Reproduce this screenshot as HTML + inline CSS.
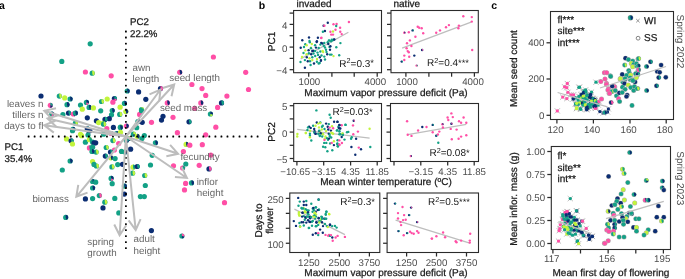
<!DOCTYPE html>
<html><head><meta charset="utf-8"><style>
html,body{margin:0;padding:0;background:#fff;}
svg{display:block;font-family:"Liberation Sans", sans-serif;will-change:transform;text-rendering:geometricPrecision;}
</style></head><body>
<svg width="685" height="279" viewBox="0 0 685 279" xmlns="http://www.w3.org/2000/svg">
<rect width="685" height="279" fill="#fff"/>
<circle cx="90.2" cy="43.8" r="2.6" fill="#13a186"/>
<circle cx="61.8" cy="61.4" r="2.6" fill="#13a186"/>
<circle cx="85.4" cy="72.0" r="2.6" fill="#ff4fa6"/>
<circle cx="92.2" cy="73.2" r="2.6" fill="#13a186"/>
<path d="M92.2,73.2L92.20,70.60A2.6,2.6 0 0 1 93.00,75.67Z" fill="#c2f43c"/>
<circle cx="111.2" cy="75.8" r="2.6" fill="#ff4fa6"/>
<circle cx="41.0" cy="96.0" r="2.6" fill="#0b2d72"/>
<circle cx="59.3" cy="96.1" r="2.6" fill="#13a186"/>
<path d="M59.3,96.1L59.30,93.50A2.6,2.6 0 0 1 60.10,98.57Z" fill="#c2f43c"/>
<circle cx="64.7" cy="97.9" r="2.6" fill="#c2f43c"/>
<circle cx="70.1" cy="99.0" r="2.6" fill="#13a186"/>
<path d="M70.1,99.0L70.10,96.40A2.6,2.6 0 0 1 70.90,101.47Z" fill="#0b2d72"/>
<circle cx="67.0" cy="104.7" r="2.6" fill="#13a186"/>
<path d="M67.0,104.7L67.00,102.10A2.6,2.6 0 0 1 67.80,107.17Z" fill="#0b2d72"/>
<circle cx="86.4" cy="102.4" r="2.6" fill="#13a186"/>
<path d="M86.4,102.4L86.40,99.80A2.6,2.6 0 0 1 88.87,103.20Z" fill="#0b2d72"/>
<path d="M86.4,102.4L88.87,103.20A2.6,2.6 0 0 1 86.40,105.00Z" fill="#ff4fa6"/>
<circle cx="80.5" cy="105.1" r="2.6" fill="#13a186"/>
<circle cx="82.3" cy="109.2" r="2.6" fill="#c2f43c"/>
<circle cx="89.1" cy="107.4" r="2.6" fill="#13a186"/>
<path d="M89.1,107.4L89.10,104.80A2.6,2.6 0 0 1 89.90,109.87Z" fill="#0b2d72"/>
<circle cx="93.4" cy="107.9" r="2.6" fill="#c2f43c"/>
<circle cx="62.9" cy="114.6" r="2.6" fill="#13a186"/>
<circle cx="68.5" cy="113.1" r="2.6" fill="#0b2d72"/>
<path d="M68.5,113.1L68.50,110.50A2.6,2.6 0 0 1 69.30,115.57Z" fill="#13a186"/>
<circle cx="73.3" cy="114.0" r="2.6" fill="#ff4fa6"/>
<path d="M73.3,114.0L73.30,111.40A2.6,2.6 0 0 1 74.10,116.47Z" fill="#0b2d72"/>
<circle cx="75.4" cy="113.1" r="2.6" fill="#13a186"/>
<path d="M75.4,113.1L75.40,110.50A2.6,2.6 0 0 1 76.20,115.57Z" fill="#0b2d72"/>
<circle cx="87.3" cy="117.8" r="2.6" fill="#0b2d72"/>
<circle cx="75.4" cy="123.2" r="2.6" fill="#13a186"/>
<path d="M75.4,123.2L75.40,120.60A2.6,2.6 0 0 1 76.20,125.67Z" fill="#c2f43c"/>
<circle cx="72.9" cy="129.4" r="2.6" fill="#13a186"/>
<path d="M72.9,129.4L72.90,126.80A2.6,2.6 0 0 1 73.70,131.87Z" fill="#0b2d72"/>
<circle cx="87.3" cy="128.9" r="2.6" fill="#0b2d72"/>
<path d="M87.3,128.9L87.30,126.30A2.6,2.6 0 0 1 88.10,131.37Z" fill="#13a186"/>
<circle cx="89.8" cy="130.7" r="2.6" fill="#0b2d72"/>
<circle cx="80.5" cy="134.3" r="2.6" fill="#c2f43c"/>
<circle cx="50.3" cy="105.3" r="2.6" fill="#ff4fa6"/>
<path d="M50.3,105.3L50.30,102.70A2.6,2.6 0 0 1 52.77,106.10Z" fill="#13a186"/>
<path d="M50.3,105.3L52.77,106.10A2.6,2.6 0 0 1 50.30,107.90Z" fill="#0b2d72"/>
<circle cx="51.7" cy="114.0" r="2.6" fill="#13a186"/>
<path d="M51.7,114.0L51.70,111.40A2.6,2.6 0 0 1 54.17,114.80Z" fill="#0b2d72"/>
<path d="M51.7,114.0L54.17,114.80A2.6,2.6 0 0 1 51.70,116.60Z" fill="#ff4fa6"/>
<circle cx="127.2" cy="91.0" r="2.6" fill="#13a186"/>
<path d="M127.2,91.0L127.20,88.40A2.6,2.6 0 0 1 128.00,93.47Z" fill="#0b2d72"/>
<circle cx="107.2" cy="99.0" r="2.6" fill="#c2f43c"/>
<circle cx="101.5" cy="101.5" r="2.6" fill="#13a186"/>
<path d="M101.5,101.5L101.50,98.90A2.6,2.6 0 0 1 102.30,103.97Z" fill="#c2f43c"/>
<circle cx="114.4" cy="98.6" r="2.6" fill="#0b2d72"/>
<path d="M114.4,98.6L114.40,96.00A2.6,2.6 0 0 1 116.87,99.40Z" fill="#13a186"/>
<path d="M114.4,98.6L116.87,99.40A2.6,2.6 0 0 1 114.40,101.20Z" fill="#ff4fa6"/>
<circle cx="112.9" cy="102.2" r="2.6" fill="#ff4fa6"/>
<circle cx="124.4" cy="103.4" r="2.6" fill="#13a186"/>
<path d="M124.4,103.4L124.40,100.80A2.6,2.6 0 0 1 125.20,105.87Z" fill="#0b2d72"/>
<circle cx="120.1" cy="107.2" r="2.6" fill="#c2f43c"/>
<circle cx="100.7" cy="110.8" r="2.6" fill="#13a186"/>
<circle cx="112.2" cy="110.5" r="2.6" fill="#13a186"/>
<path d="M112.2,110.5L112.20,107.90A2.6,2.6 0 0 1 113.00,112.97Z" fill="#0b2d72"/>
<circle cx="125.8" cy="111.5" r="2.6" fill="#c2f43c"/>
<path d="M125.8,111.5L125.80,108.90A2.6,2.6 0 0 1 126.60,113.97Z" fill="#0b2d72"/>
<circle cx="111.5" cy="114.8" r="2.6" fill="#13a186"/>
<circle cx="119.7" cy="114.4" r="2.6" fill="#13a186"/>
<path d="M119.7,114.4L119.70,111.80A2.6,2.6 0 0 1 120.50,116.87Z" fill="#c2f43c"/>
<circle cx="109.3" cy="118.7" r="2.6" fill="#0b2d72"/>
<circle cx="105.0" cy="119.4" r="2.6" fill="#0b2d72"/>
<path d="M105.0,119.4L105.00,116.80A2.6,2.6 0 0 1 105.80,121.87Z" fill="#13a186"/>
<circle cx="96.4" cy="120.8" r="2.6" fill="#0b2d72"/>
<circle cx="98.6" cy="122.6" r="2.6" fill="#c2f43c"/>
<circle cx="102.9" cy="123.4" r="2.6" fill="#c2f43c"/>
<path d="M102.9,123.4L102.90,120.80A2.6,2.6 0 0 1 103.70,125.87Z" fill="#13a186"/>
<circle cx="138.6" cy="91.9" r="2.6" fill="#0b2d72"/>
<circle cx="160.5" cy="88.6" r="2.6" fill="#0b2d72"/>
<path d="M160.5,88.6L160.50,86.00A2.6,2.6 0 0 1 161.30,91.07Z" fill="#ff4fa6"/>
<circle cx="145.8" cy="99.3" r="2.6" fill="#0b2d72"/>
<circle cx="167.3" cy="102.9" r="2.6" fill="#ff4fa6"/>
<path d="M167.3,102.9L167.30,100.30A2.6,2.6 0 0 1 168.10,105.37Z" fill="#0b2d72"/>
<circle cx="141.5" cy="109.7" r="2.6" fill="#13a186"/>
<path d="M141.5,109.7L141.50,107.10A2.6,2.6 0 0 1 142.30,112.17Z" fill="#c2f43c"/>
<circle cx="139.6" cy="114.4" r="2.6" fill="#ff4fa6"/>
<circle cx="163.0" cy="116.3" r="2.6" fill="#0b2d72"/>
<circle cx="161.5" cy="120.1" r="2.6" fill="#0b2d72"/>
<circle cx="173.0" cy="117.3" r="2.6" fill="#ff4fa6"/>
<circle cx="137.9" cy="121.6" r="2.6" fill="#13a186"/>
<path d="M137.9,121.6L137.90,119.00A2.6,2.6 0 0 1 138.70,124.07Z" fill="#0b2d72"/>
<circle cx="142.2" cy="122.3" r="2.6" fill="#0b2d72"/>
<circle cx="151.5" cy="122.3" r="2.6" fill="#ff4fa6"/>
<circle cx="141.5" cy="110.7" r="2.6" fill="#13a186"/>
<circle cx="103.6" cy="124.2" r="2.6" fill="#13a186"/>
<path d="M103.6,124.2L103.60,121.60A2.6,2.6 0 0 1 104.40,126.67Z" fill="#c2f43c"/>
<circle cx="106.8" cy="128.5" r="2.6" fill="#ff4fa6"/>
<circle cx="113.4" cy="127.4" r="2.6" fill="#0b2d72"/>
<circle cx="120.5" cy="127.0" r="2.6" fill="#13a186"/>
<path d="M120.5,127.0L120.50,124.40A2.6,2.6 0 0 1 121.30,129.47Z" fill="#c2f43c"/>
<circle cx="126.3" cy="126.0" r="2.6" fill="#ff4fa6"/>
<path d="M126.3,126.0L126.30,123.40A2.6,2.6 0 0 1 127.10,128.47Z" fill="#0b2d72"/>
<circle cx="120.3" cy="127.5" r="2.6" fill="#13a186"/>
<path d="M120.3,127.5L120.30,124.90A2.6,2.6 0 0 1 121.10,129.97Z" fill="#0b2d72"/>
<circle cx="103.6" cy="134.2" r="2.6" fill="#13a186"/>
<circle cx="111.1" cy="133.5" r="2.6" fill="#ff4fa6"/>
<path d="M111.1,133.5L111.10,130.90A2.6,2.6 0 0 1 111.90,135.97Z" fill="#13a186"/>
<circle cx="116.5" cy="133.5" r="2.6" fill="#13a186"/>
<path d="M116.5,133.5L116.50,130.90A2.6,2.6 0 0 1 117.30,135.97Z" fill="#0b2d72"/>
<circle cx="120.5" cy="132.3" r="2.6" fill="#c2f43c"/>
<circle cx="133.4" cy="134.2" r="2.6" fill="#13a186"/>
<path d="M133.4,134.2L133.40,131.60A2.6,2.6 0 0 1 135.87,135.00Z" fill="#c2f43c"/>
<path d="M133.4,134.2L135.87,135.00A2.6,2.6 0 0 1 133.40,136.80Z" fill="#0b2d72"/>
<circle cx="95.7" cy="142.8" r="2.6" fill="#0b2d72"/>
<circle cx="112.9" cy="140.6" r="2.6" fill="#13a186"/>
<path d="M112.9,140.6L112.90,138.00A2.6,2.6 0 0 1 113.70,143.07Z" fill="#c2f43c"/>
<circle cx="118.7" cy="143.5" r="2.6" fill="#ff4fa6"/>
<circle cx="126.3" cy="140.6" r="2.6" fill="#13a186"/>
<path d="M126.3,140.6L126.30,138.00A2.6,2.6 0 0 1 127.10,143.07Z" fill="#0b2d72"/>
<circle cx="128.7" cy="138.5" r="2.6" fill="#13a186"/>
<path d="M128.7,138.5L128.70,135.90A2.6,2.6 0 0 1 131.17,139.30Z" fill="#c2f43c"/>
<path d="M128.7,138.5L131.17,139.30A2.6,2.6 0 0 1 128.70,141.10Z" fill="#0b2d72"/>
<circle cx="106.2" cy="147.5" r="2.6" fill="#13a186"/>
<path d="M106.2,147.5L106.20,144.90A2.6,2.6 0 0 1 107.00,149.97Z" fill="#c2f43c"/>
<circle cx="114.4" cy="150.0" r="2.6" fill="#ff4fa6"/>
<circle cx="121.5" cy="151.4" r="2.6" fill="#13a186"/>
<circle cx="130.6" cy="149.2" r="2.6" fill="#0b2d72"/>
<circle cx="110.5" cy="152.1" r="2.6" fill="#0b2d72"/>
<path d="M110.5,152.1L110.50,149.50A2.6,2.6 0 0 1 111.30,154.57Z" fill="#13a186"/>
<circle cx="96.1" cy="152.1" r="2.6" fill="#13a186"/>
<path d="M96.1,152.1L96.10,149.50A2.6,2.6 0 0 1 96.90,154.57Z" fill="#c2f43c"/>
<circle cx="105.3" cy="156.1" r="2.6" fill="#0b2d72"/>
<path d="M105.3,156.1L105.30,153.50A2.6,2.6 0 0 1 106.10,158.57Z" fill="#13a186"/>
<circle cx="110.8" cy="157.8" r="2.6" fill="#c2f43c"/>
<path d="M110.8,157.8L110.80,155.20A2.6,2.6 0 0 1 111.60,160.27Z" fill="#0b2d72"/>
<circle cx="115.1" cy="158.6" r="2.6" fill="#13a186"/>
<circle cx="125.1" cy="152.1" r="2.6" fill="#13a186"/>
<path d="M125.1,152.1L125.10,149.50A2.6,2.6 0 0 1 125.90,154.57Z" fill="#0b2d72"/>
<circle cx="136.7" cy="127.7" r="2.6" fill="#13a186"/>
<circle cx="137.2" cy="136.3" r="2.6" fill="#c2f43c"/>
<path d="M137.2,136.3L137.20,133.70A2.6,2.6 0 0 1 138.00,138.77Z" fill="#0b2d72"/>
<circle cx="144.3" cy="135.6" r="2.6" fill="#13a186"/>
<circle cx="141.9" cy="138.5" r="2.6" fill="#13a186"/>
<circle cx="155.4" cy="142.8" r="2.6" fill="#13a186"/>
<path d="M155.4,142.8L155.40,140.20A2.6,2.6 0 0 1 156.20,145.27Z" fill="#0b2d72"/>
<circle cx="152.2" cy="155.3" r="2.6" fill="#13a186"/>
<circle cx="72.5" cy="130.7" r="2.6" fill="#13a186"/>
<circle cx="88.7" cy="130.7" r="2.6" fill="#0b2d72"/>
<circle cx="66.5" cy="138.9" r="2.6" fill="#c2f43c"/>
<circle cx="71.1" cy="140.8" r="2.6" fill="#0b2d72"/>
<path d="M71.1,140.8L71.10,138.20A2.6,2.6 0 0 1 71.90,143.27Z" fill="#13a186"/>
<circle cx="72.5" cy="144.0" r="2.6" fill="#c2f43c"/>
<circle cx="81.5" cy="135.7" r="2.6" fill="#c2f43c"/>
<circle cx="88.0" cy="135.0" r="2.6" fill="#13a186"/>
<circle cx="85.4" cy="142.2" r="2.6" fill="#13a186"/>
<circle cx="89.4" cy="139.7" r="2.6" fill="#c2f43c"/>
<path d="M89.4,139.7L89.40,137.10A2.6,2.6 0 0 1 90.20,142.17Z" fill="#13a186"/>
<circle cx="92.6" cy="142.2" r="2.6" fill="#13a186"/>
<circle cx="94.0" cy="142.9" r="2.6" fill="#0b2d72"/>
<circle cx="89.4" cy="147.9" r="2.6" fill="#ff4fa6"/>
<path d="M89.4,147.9L89.40,145.30A2.6,2.6 0 0 1 90.20,150.37Z" fill="#13a186"/>
<circle cx="92.6" cy="147.2" r="2.6" fill="#13a186"/>
<circle cx="92.0" cy="151.5" r="2.6" fill="#13a186"/>
<path d="M92.0,151.5L92.00,148.90A2.6,2.6 0 0 1 92.80,153.97Z" fill="#0b2d72"/>
<circle cx="70.1" cy="161.0" r="2.6" fill="#13a186"/>
<path d="M70.1,161.0L70.10,158.40A2.6,2.6 0 0 1 70.90,163.47Z" fill="#0b2d72"/>
<circle cx="92.6" cy="161.5" r="2.6" fill="#c2f43c"/>
<circle cx="94.0" cy="164.4" r="2.6" fill="#13a186"/>
<circle cx="62.3" cy="170.0" r="2.6" fill="#13a186"/>
<circle cx="92.6" cy="181.5" r="2.6" fill="#13a186"/>
<path d="M92.6,181.5L92.60,178.90A2.6,2.6 0 0 1 93.40,183.97Z" fill="#0b2d72"/>
<circle cx="92.6" cy="188.0" r="2.6" fill="#13a186"/>
<path d="M92.6,188.0L92.60,185.40A2.6,2.6 0 0 1 93.40,190.47Z" fill="#0b2d72"/>
<circle cx="96.4" cy="166.0" r="2.6" fill="#13a186"/>
<path d="M96.4,166.0L96.40,163.40A2.6,2.6 0 0 1 97.20,168.47Z" fill="#c2f43c"/>
<circle cx="111.9" cy="166.9" r="2.6" fill="#13a186"/>
<path d="M111.9,166.9L111.90,164.30A2.6,2.6 0 0 1 112.70,169.37Z" fill="#c2f43c"/>
<circle cx="117.7" cy="164.6" r="2.6" fill="#13a186"/>
<circle cx="122.5" cy="164.3" r="2.6" fill="#0b2d72"/>
<circle cx="133.0" cy="167.2" r="2.6" fill="#c2f43c"/>
<path d="M133.0,167.2L133.00,164.60A2.6,2.6 0 0 1 133.80,169.67Z" fill="#13a186"/>
<circle cx="132.6" cy="173.2" r="2.6" fill="#13a186"/>
<path d="M132.6,173.2L132.60,170.60A2.6,2.6 0 0 1 133.40,175.67Z" fill="#c2f43c"/>
<circle cx="111.1" cy="178.4" r="2.6" fill="#13a186"/>
<path d="M111.1,178.4L111.10,175.80A2.6,2.6 0 0 1 113.57,179.20Z" fill="#0b2d72"/>
<path d="M111.1,178.4L113.57,179.20A2.6,2.6 0 0 1 111.10,181.00Z" fill="#ff4fa6"/>
<circle cx="112.2" cy="183.7" r="2.6" fill="#13a186"/>
<circle cx="95.7" cy="182.2" r="2.6" fill="#13a186"/>
<circle cx="124.4" cy="186.1" r="2.6" fill="#13a186"/>
<path d="M124.4,186.1L124.40,183.50A2.6,2.6 0 0 1 125.20,188.57Z" fill="#0b2d72"/>
<circle cx="124.4" cy="194.1" r="2.6" fill="#0b2d72"/>
<circle cx="99.3" cy="195.6" r="2.6" fill="#13a186"/>
<path d="M99.3,195.6L99.30,193.00A2.6,2.6 0 0 1 100.10,198.07Z" fill="#ff4fa6"/>
<circle cx="114.8" cy="198.4" r="2.6" fill="#13a186"/>
<circle cx="137.2" cy="166.5" r="2.6" fill="#0b2d72"/>
<path d="M137.2,166.5L137.20,163.90A2.6,2.6 0 0 1 138.00,168.97Z" fill="#13a186"/>
<circle cx="150.5" cy="165.0" r="2.6" fill="#13a186"/>
<circle cx="144.7" cy="175.5" r="2.6" fill="#13a186"/>
<path d="M144.7,175.5L144.70,172.90A2.6,2.6 0 0 1 145.50,177.97Z" fill="#c2f43c"/>
<circle cx="145.3" cy="185.5" r="2.6" fill="#13a186"/>
<circle cx="140.4" cy="196.6" r="2.6" fill="#13a186"/>
<circle cx="144.3" cy="196.6" r="2.6" fill="#13a186"/>
<circle cx="85.4" cy="198.9" r="2.6" fill="#0b2d72"/>
<circle cx="92.6" cy="198.6" r="2.6" fill="#13a186"/>
<circle cx="104.8" cy="202.2" r="2.6" fill="#13a186"/>
<path d="M104.8,202.2L104.80,199.60A2.6,2.6 0 0 1 105.60,204.67Z" fill="#c2f43c"/>
<circle cx="103.0" cy="207.9" r="2.6" fill="#0b2d72"/>
<circle cx="65.7" cy="217.4" r="2.6" fill="#13a186"/>
<path d="M65.7,217.4L65.70,214.80A2.6,2.6 0 0 1 66.50,219.87Z" fill="#0b2d72"/>
<circle cx="118.8" cy="212.9" r="2.6" fill="#13a186"/>
<circle cx="151.4" cy="230.6" r="2.6" fill="#0b2d72"/>
<circle cx="179.7" cy="72.3" r="2.6" fill="#ff4fa6"/>
<path d="M179.7,72.3L179.70,69.70A2.6,2.6 0 0 1 180.50,74.77Z" fill="#0b2d72"/>
<circle cx="191.9" cy="84.5" r="2.6" fill="#ff4fa6"/>
<circle cx="202.0" cy="88.6" r="2.6" fill="#ff4fa6"/>
<circle cx="213.4" cy="57.0" r="2.6" fill="#ff4fa6"/>
<circle cx="245.7" cy="72.3" r="2.6" fill="#ff4fa6"/>
<circle cx="248.5" cy="89.5" r="2.6" fill="#ff4fa6"/>
<circle cx="205.7" cy="95.4" r="2.6" fill="#ff4fa6"/>
<circle cx="226.9" cy="96.1" r="2.6" fill="#ff4fa6"/>
<circle cx="200.8" cy="102.9" r="2.6" fill="#ff4fa6"/>
<path d="M200.8,102.9L200.80,100.30A2.6,2.6 0 0 1 201.60,105.37Z" fill="#0b2d72"/>
<circle cx="221.5" cy="102.9" r="2.6" fill="#0b2d72"/>
<path d="M221.5,102.9L221.50,100.30A2.6,2.6 0 0 1 222.30,105.37Z" fill="#13a186"/>
<circle cx="217.6" cy="107.4" r="2.6" fill="#ff4fa6"/>
<circle cx="210.4" cy="114.0" r="2.6" fill="#13a186"/>
<path d="M210.4,114.0L210.40,111.40A2.6,2.6 0 0 1 212.87,114.80Z" fill="#0b2d72"/>
<path d="M210.4,114.0L212.87,114.80A2.6,2.6 0 0 1 210.40,116.60Z" fill="#c2f43c"/>
<circle cx="215.8" cy="127.2" r="2.6" fill="#ff4fa6"/>
<circle cx="205.7" cy="134.8" r="2.6" fill="#ff4fa6"/>
<circle cx="189.0" cy="121.8" r="2.6" fill="#0b2d72"/>
<path d="M189.0,121.8L189.00,119.20A2.6,2.6 0 0 1 189.80,124.27Z" fill="#13a186"/>
<circle cx="194.7" cy="108.4" r="2.6" fill="#ff4fa6"/>
<circle cx="177.4" cy="132.7" r="2.6" fill="#ff4fa6"/>
<circle cx="186.1" cy="144.4" r="2.6" fill="#c2f43c"/>
<path d="M186.1,144.4L186.10,141.80A2.6,2.6 0 0 1 186.90,146.87Z" fill="#0b2d72"/>
<circle cx="189.8" cy="145.2" r="2.6" fill="#ff4fa6"/>
<circle cx="202.3" cy="144.7" r="2.6" fill="#ff4fa6"/>
<circle cx="183.4" cy="151.6" r="2.6" fill="#ff4fa6"/>
<circle cx="185.8" cy="164.0" r="2.6" fill="#13a186"/>
<circle cx="173.5" cy="165.8" r="2.6" fill="#ff4fa6"/>
<circle cx="182.6" cy="168.0" r="2.6" fill="#ff4fa6"/>
<path d="M182.6,168.0L182.60,165.40A2.6,2.6 0 0 1 183.40,170.47Z" fill="#13a186"/>
<circle cx="199.2" cy="165.3" r="2.6" fill="#ff4fa6"/>
<circle cx="210.8" cy="155.1" r="2.6" fill="#ff4fa6"/>
<circle cx="209.0" cy="168.9" r="2.6" fill="#0b2d72"/>
<path d="M209.0,168.9L209.00,166.30A2.6,2.6 0 0 1 209.80,171.37Z" fill="#ff4fa6"/>
<circle cx="185.6" cy="183.4" r="2.6" fill="#ff4fa6"/>
<circle cx="191.5" cy="182.9" r="2.6" fill="#13a186"/>
<path d="M191.5,182.9L191.50,180.30A2.6,2.6 0 0 1 192.30,185.37Z" fill="#0b2d72"/>
<circle cx="184.5" cy="189.9" r="2.6" fill="#ff4fa6"/>
<circle cx="224.5" cy="202.7" r="2.6" fill="#ff4fa6"/>
<circle cx="181.9" cy="236.0" r="2.6" fill="#13a186"/>
<path d="M181.9,236.0L181.90,233.40A2.6,2.6 0 0 1 184.37,236.80Z" fill="#ff4fa6"/>
<path d="M181.9,236.0L184.37,236.80A2.6,2.6 0 0 1 181.90,238.60Z" fill="#0b2d72"/>
<rect x="27.70" y="135.6" width="1.8" height="1.8" rx="0.5" fill="#000"/>
<rect x="33.73" y="135.6" width="1.8" height="1.8" rx="0.5" fill="#000"/>
<rect x="39.75" y="135.6" width="1.8" height="1.8" rx="0.5" fill="#000"/>
<rect x="45.78" y="135.6" width="1.8" height="1.8" rx="0.5" fill="#000"/>
<rect x="51.80" y="135.6" width="1.8" height="1.8" rx="0.5" fill="#000"/>
<rect x="57.83" y="135.6" width="1.8" height="1.8" rx="0.5" fill="#000"/>
<rect x="63.86" y="135.6" width="1.8" height="1.8" rx="0.5" fill="#000"/>
<rect x="69.88" y="135.6" width="1.8" height="1.8" rx="0.5" fill="#000"/>
<rect x="75.91" y="135.6" width="1.8" height="1.8" rx="0.5" fill="#000"/>
<rect x="81.93" y="135.6" width="1.8" height="1.8" rx="0.5" fill="#000"/>
<rect x="87.96" y="135.6" width="1.8" height="1.8" rx="0.5" fill="#000"/>
<rect x="93.99" y="135.6" width="1.8" height="1.8" rx="0.5" fill="#000"/>
<rect x="100.01" y="135.6" width="1.8" height="1.8" rx="0.5" fill="#000"/>
<rect x="106.04" y="135.6" width="1.8" height="1.8" rx="0.5" fill="#000"/>
<rect x="112.06" y="135.6" width="1.8" height="1.8" rx="0.5" fill="#000"/>
<rect x="118.09" y="135.6" width="1.8" height="1.8" rx="0.5" fill="#000"/>
<rect x="124.12" y="135.6" width="1.8" height="1.8" rx="0.5" fill="#000"/>
<rect x="130.14" y="135.6" width="1.8" height="1.8" rx="0.5" fill="#000"/>
<rect x="136.17" y="135.6" width="1.8" height="1.8" rx="0.5" fill="#000"/>
<rect x="142.19" y="135.6" width="1.8" height="1.8" rx="0.5" fill="#000"/>
<rect x="148.22" y="135.6" width="1.8" height="1.8" rx="0.5" fill="#000"/>
<rect x="154.25" y="135.6" width="1.8" height="1.8" rx="0.5" fill="#000"/>
<rect x="160.27" y="135.6" width="1.8" height="1.8" rx="0.5" fill="#000"/>
<rect x="166.30" y="135.6" width="1.8" height="1.8" rx="0.5" fill="#000"/>
<rect x="172.32" y="135.6" width="1.8" height="1.8" rx="0.5" fill="#000"/>
<rect x="178.35" y="135.6" width="1.8" height="1.8" rx="0.5" fill="#000"/>
<rect x="184.38" y="135.6" width="1.8" height="1.8" rx="0.5" fill="#000"/>
<rect x="190.40" y="135.6" width="1.8" height="1.8" rx="0.5" fill="#000"/>
<rect x="196.43" y="135.6" width="1.8" height="1.8" rx="0.5" fill="#000"/>
<rect x="202.45" y="135.6" width="1.8" height="1.8" rx="0.5" fill="#000"/>
<rect x="208.48" y="135.6" width="1.8" height="1.8" rx="0.5" fill="#000"/>
<rect x="214.51" y="135.6" width="1.8" height="1.8" rx="0.5" fill="#000"/>
<rect x="220.53" y="135.6" width="1.8" height="1.8" rx="0.5" fill="#000"/>
<rect x="226.56" y="135.6" width="1.8" height="1.8" rx="0.5" fill="#000"/>
<rect x="232.58" y="135.6" width="1.8" height="1.8" rx="0.5" fill="#000"/>
<rect x="238.61" y="135.6" width="1.8" height="1.8" rx="0.5" fill="#000"/>
<rect x="244.64" y="135.6" width="1.8" height="1.8" rx="0.5" fill="#000"/>
<rect x="250.66" y="135.6" width="1.8" height="1.8" rx="0.5" fill="#000"/>
<rect x="256.69" y="135.6" width="1.8" height="1.8" rx="0.5" fill="#000"/>
<rect x="125.0" y="30.60" width="1.8" height="1.8" rx="0.5" fill="#000"/>
<rect x="125.0" y="36.62" width="1.8" height="1.8" rx="0.5" fill="#000"/>
<rect x="125.0" y="42.64" width="1.8" height="1.8" rx="0.5" fill="#000"/>
<rect x="125.0" y="48.66" width="1.8" height="1.8" rx="0.5" fill="#000"/>
<rect x="125.0" y="54.68" width="1.8" height="1.8" rx="0.5" fill="#000"/>
<rect x="125.0" y="60.70" width="1.8" height="1.8" rx="0.5" fill="#000"/>
<rect x="125.0" y="66.71" width="1.8" height="1.8" rx="0.5" fill="#000"/>
<rect x="125.0" y="72.73" width="1.8" height="1.8" rx="0.5" fill="#000"/>
<rect x="125.0" y="78.75" width="1.8" height="1.8" rx="0.5" fill="#000"/>
<rect x="125.0" y="84.77" width="1.8" height="1.8" rx="0.5" fill="#000"/>
<rect x="125.0" y="90.79" width="1.8" height="1.8" rx="0.5" fill="#000"/>
<rect x="125.0" y="96.81" width="1.8" height="1.8" rx="0.5" fill="#000"/>
<rect x="125.0" y="102.83" width="1.8" height="1.8" rx="0.5" fill="#000"/>
<rect x="125.0" y="108.85" width="1.8" height="1.8" rx="0.5" fill="#000"/>
<rect x="125.0" y="114.87" width="1.8" height="1.8" rx="0.5" fill="#000"/>
<rect x="125.0" y="120.88" width="1.8" height="1.8" rx="0.5" fill="#000"/>
<rect x="125.0" y="126.90" width="1.8" height="1.8" rx="0.5" fill="#000"/>
<rect x="125.0" y="132.92" width="1.8" height="1.8" rx="0.5" fill="#000"/>
<rect x="125.0" y="138.94" width="1.8" height="1.8" rx="0.5" fill="#000"/>
<rect x="125.0" y="144.96" width="1.8" height="1.8" rx="0.5" fill="#000"/>
<rect x="125.0" y="150.98" width="1.8" height="1.8" rx="0.5" fill="#000"/>
<rect x="125.0" y="157.00" width="1.8" height="1.8" rx="0.5" fill="#000"/>
<rect x="125.0" y="163.02" width="1.8" height="1.8" rx="0.5" fill="#000"/>
<rect x="125.0" y="169.04" width="1.8" height="1.8" rx="0.5" fill="#000"/>
<rect x="125.0" y="175.06" width="1.8" height="1.8" rx="0.5" fill="#000"/>
<rect x="125.0" y="181.07" width="1.8" height="1.8" rx="0.5" fill="#000"/>
<rect x="125.0" y="187.09" width="1.8" height="1.8" rx="0.5" fill="#000"/>
<rect x="125.0" y="193.11" width="1.8" height="1.8" rx="0.5" fill="#000"/>
<rect x="125.0" y="199.13" width="1.8" height="1.8" rx="0.5" fill="#000"/>
<rect x="125.0" y="205.15" width="1.8" height="1.8" rx="0.5" fill="#000"/>
<rect x="125.0" y="211.17" width="1.8" height="1.8" rx="0.5" fill="#000"/>
<rect x="125.0" y="217.19" width="1.8" height="1.8" rx="0.5" fill="#000"/>
<rect x="125.0" y="223.21" width="1.8" height="1.8" rx="0.5" fill="#000"/>
<rect x="125.0" y="229.23" width="1.8" height="1.8" rx="0.5" fill="#000"/>
<rect x="125.0" y="235.25" width="1.8" height="1.8" rx="0.5" fill="#000"/>
<rect x="125.0" y="241.26" width="1.8" height="1.8" rx="0.5" fill="#000"/>
<rect x="125.0" y="247.28" width="1.8" height="1.8" rx="0.5" fill="#000"/>
<path d="M125.9,136.5L174.2,84.5M171.52,96.20L174.2,84.5L162.73,88.03" fill="none" stroke="#bdbdbd" stroke-width="2" stroke-linejoin="miter"/>
<path d="M125.9,136.5L160.5,89.5M159.17,101.43L160.5,89.5L149.51,94.31" fill="none" stroke="#bdbdbd" stroke-width="2" stroke-linejoin="miter"/>
<path d="M125.9,136.5L44.3,110.8M56.01,108.20L44.3,110.8L52.41,119.64" fill="none" stroke="#bdbdbd" stroke-width="2" stroke-linejoin="miter"/>
<path d="M125.9,136.5L47.5,118.5M58.97,114.98L47.5,118.5L56.29,126.67" fill="none" stroke="#bdbdbd" stroke-width="2" stroke-linejoin="miter"/>
<path d="M125.9,136.5L44.3,125.3M55.41,120.77L44.3,125.3L53.78,132.66" fill="none" stroke="#bdbdbd" stroke-width="2" stroke-linejoin="miter"/>
<path d="M125.9,136.5L76.3,196.8M78.27,184.96L76.3,196.8L87.54,192.59" fill="none" stroke="#bdbdbd" stroke-width="2" stroke-linejoin="miter"/>
<path d="M125.9,136.5L119.6,235.2M114.27,224.45L119.6,235.2L126.25,225.21" fill="none" stroke="#bdbdbd" stroke-width="2" stroke-linejoin="miter"/>
<path d="M125.9,136.5L135.7,230.1M128.65,220.39L135.7,230.1L140.59,219.14" fill="none" stroke="#bdbdbd" stroke-width="2" stroke-linejoin="miter"/>
<path d="M125.9,136.5L178.1,153.8M166.35,156.23L178.1,153.8L170.12,144.84" fill="none" stroke="#bdbdbd" stroke-width="2" stroke-linejoin="miter"/>
<path d="M125.9,136.5L186.9,178M174.93,177.12L186.9,178L181.68,167.19" fill="none" stroke="#bdbdbd" stroke-width="2" stroke-linejoin="miter"/>
<text x="43.4" y="106.6" font-size="9.8" fill="#666666" text-anchor="end" font-weight="normal">leaves n</text>
<text x="43.4" y="117.5" font-size="9.8" fill="#666666" text-anchor="end" font-weight="normal">tillers n</text>
<text x="43.4" y="128.5" font-size="9.8" fill="#666666" text-anchor="end" font-weight="normal">days to fl</text>
<text x="132.5" y="70.6" font-size="9.8" fill="#666666" text-anchor="start" font-weight="normal">awn</text>
<text x="132.5" y="82.1" font-size="9.8" fill="#666666" text-anchor="start" font-weight="normal">length</text>
<text x="169.3" y="80.6" font-size="9.8" fill="#666666" text-anchor="start" font-weight="normal">seed length</text>
<text x="159.9" y="110.9" font-size="9.8" fill="#666666" text-anchor="start" font-weight="normal">seed mass</text>
<text x="180.4" y="159.6" font-size="9.8" fill="#666666" text-anchor="start" font-weight="normal">fecundity</text>
<text x="196.7" y="184.6" font-size="9.8" fill="#666666" text-anchor="start" font-weight="normal">inflor</text>
<text x="196.7" y="195.7" font-size="9.8" fill="#666666" text-anchor="start" font-weight="normal">height</text>
<text x="32.4" y="202.2" font-size="9.8" fill="#666666" text-anchor="start" font-weight="normal">biomass</text>
<text x="87.3" y="245" font-size="9.8" fill="#666666" text-anchor="start" font-weight="normal">spring</text>
<text x="87.3" y="256.4" font-size="9.8" fill="#666666" text-anchor="start" font-weight="normal">growth</text>
<text x="133.6" y="242.2" font-size="9.8" fill="#666666" text-anchor="start" font-weight="normal">adult</text>
<text x="133.6" y="253.8" font-size="9.8" fill="#666666" text-anchor="start" font-weight="normal">height</text>
<text x="-1" y="9.3" font-size="10.5" fill="#000" text-anchor="start" font-weight="bold">a</text>
<text x="258.8" y="9.3" font-size="10.5" fill="#000" text-anchor="start" font-weight="bold">b</text>
<text x="491.2" y="9.3" font-size="10.5" fill="#000" text-anchor="start" font-weight="bold">c</text>
<line x1="300.7" y1="58.9" x2="348.4" y2="32.2" stroke="#bebebe" stroke-width="1.3"/>
<circle cx="327.8" cy="22.8" r="1.2" fill="#0b2d72"/>
<circle cx="323.6" cy="25.8" r="1.2" fill="#0b2d72"/>
<circle cx="324.4" cy="25.8" r="1.2" fill="#ff4fa6"/>
<circle cx="333.5" cy="24.3" r="1.2" fill="#ff4fa6"/>
<circle cx="336.6" cy="24.0" r="1.2" fill="#ff4fa6"/>
<circle cx="336.2" cy="26.0" r="1.2" fill="#13a186"/>
<circle cx="324.9" cy="31.0" r="1.2" fill="#0b2d72"/>
<circle cx="322.9" cy="31.8" r="1.2" fill="#13a186"/>
<circle cx="330.4" cy="31.8" r="1.2" fill="#ff4fa6"/>
<circle cx="333.0" cy="31.5" r="1.2" fill="#c2f43c"/>
<circle cx="335.5" cy="29.7" r="1.2" fill="#ff4fa6"/>
<circle cx="331.2" cy="34.6" r="1.2" fill="#ff4fa6"/>
<circle cx="333.0" cy="34.6" r="1.2" fill="#ff4fa6"/>
<circle cx="309.0" cy="37.5" r="1.2" fill="#0b2d72"/>
<circle cx="317.9" cy="37.8" r="1.2" fill="#0b2d72"/>
<circle cx="321.2" cy="38.1" r="1.2" fill="#ff4fa6"/>
<circle cx="302.3" cy="40.3" r="1.2" fill="#0b2d72"/>
<circle cx="309.5" cy="40.9" r="1.2" fill="#13a186"/>
<circle cx="316.9" cy="41.2" r="1.2" fill="#0b2d72"/>
<circle cx="328.9" cy="40.4" r="1.2" fill="#13a186"/>
<circle cx="331.8" cy="39.8" r="1.2" fill="#13a186"/>
<circle cx="333.9" cy="39.6" r="1.2" fill="#0b2d72"/>
<circle cx="348.9" cy="22.0" r="1.2" fill="#ff4fa6"/>
<circle cx="340.1" cy="27.8" r="1.2" fill="#ff4fa6"/>
<circle cx="340.3" cy="31.8" r="1.2" fill="#ff4fa6"/>
<circle cx="341.7" cy="34.1" r="1.2" fill="#ff4fa6"/>
<circle cx="305.3" cy="44.3" r="1.2" fill="#13a186"/>
<circle cx="306.7" cy="45.2" r="1.2" fill="#c2f43c"/>
<circle cx="309.8" cy="42.2" r="1.2" fill="#13a186"/>
<circle cx="311.8" cy="44.0" r="1.2" fill="#c2f43c"/>
<circle cx="316.7" cy="42.0" r="1.2" fill="#0b2d72"/>
<circle cx="315.1" cy="45.2" r="1.2" fill="#13a186"/>
<circle cx="300.7" cy="47.8" r="1.2" fill="#0b2d72"/>
<circle cx="310.9" cy="47.8" r="1.2" fill="#c2f43c"/>
<circle cx="316.0" cy="47.6" r="1.2" fill="#0b2d72"/>
<circle cx="308.6" cy="50.2" r="1.2" fill="#0b2d72"/>
<circle cx="305.3" cy="50.4" r="1.2" fill="#c2f43c"/>
<circle cx="313.2" cy="50.8" r="1.2" fill="#0b2d72"/>
<circle cx="321.2" cy="42.9" r="1.2" fill="#0b2d72"/>
<circle cx="320.4" cy="44.6" r="1.2" fill="#13a186"/>
<circle cx="323.8" cy="45.7" r="1.2" fill="#13a186"/>
<circle cx="318.7" cy="48.0" r="1.2" fill="#13a186"/>
<circle cx="311.0" cy="48.3" r="1.2" fill="#13a186"/>
<circle cx="312.3" cy="50.9" r="1.2" fill="#0b2d72"/>
<circle cx="315.0" cy="51.0" r="1.2" fill="#13a186"/>
<circle cx="306.6" cy="54.3" r="1.2" fill="#c2f43c"/>
<circle cx="308.9" cy="53.2" r="1.2" fill="#13a186"/>
<circle cx="311.2" cy="54.3" r="1.2" fill="#0b2d72"/>
<circle cx="317.5" cy="52.6" r="1.2" fill="#13a186"/>
<circle cx="320.4" cy="51.5" r="1.2" fill="#13a186"/>
<circle cx="323.2" cy="52.0" r="1.2" fill="#c2f43c"/>
<circle cx="318.1" cy="54.9" r="1.2" fill="#13a186"/>
<circle cx="306.8" cy="57.2" r="1.2" fill="#0b2d72"/>
<circle cx="309.5" cy="58.3" r="1.2" fill="#c2f43c"/>
<circle cx="312.3" cy="57.2" r="1.2" fill="#13a186"/>
<circle cx="315.2" cy="56.0" r="1.2" fill="#13a186"/>
<circle cx="319.8" cy="57.2" r="1.2" fill="#0b2d72"/>
<circle cx="321.5" cy="55.5" r="1.2" fill="#13a186"/>
<circle cx="304.9" cy="60.1" r="1.2" fill="#13a186"/>
<circle cx="307.8" cy="61.2" r="1.2" fill="#0b2d72"/>
<circle cx="310.0" cy="61.2" r="1.2" fill="#13a186"/>
<circle cx="312.3" cy="60.1" r="1.2" fill="#c2f43c"/>
<circle cx="316.9" cy="61.8" r="1.2" fill="#13a186"/>
<circle cx="318.7" cy="63.5" r="1.2" fill="#13a186"/>
<circle cx="321.0" cy="60.1" r="1.2" fill="#0b2d72"/>
<circle cx="310.6" cy="65.0" r="1.2" fill="#13a186"/>
<circle cx="304.9" cy="67.8" r="1.2" fill="#0b2d72"/>
<circle cx="329.5" cy="40.6" r="1.2" fill="#13a186"/>
<circle cx="331.2" cy="41.2" r="1.2" fill="#13a186"/>
<circle cx="332.9" cy="40.0" r="1.2" fill="#13a186"/>
<circle cx="334.3" cy="39.4" r="1.2" fill="#0b2d72"/>
<circle cx="322.6" cy="43.5" r="1.2" fill="#0b2d72"/>
<circle cx="324.3" cy="42.9" r="1.2" fill="#13a186"/>
<circle cx="327.7" cy="42.3" r="1.2" fill="#13a186"/>
<circle cx="328.3" cy="44.0" r="1.2" fill="#0b2d72"/>
<circle cx="340.4" cy="43.1" r="1.2" fill="#13a186"/>
<circle cx="336.3" cy="47.2" r="1.2" fill="#13a186"/>
<circle cx="329.5" cy="46.9" r="1.2" fill="#13a186"/>
<circle cx="330.4" cy="46.3" r="1.2" fill="#0b2d72"/>
<circle cx="326.0" cy="49.8" r="1.2" fill="#13a186"/>
<circle cx="330.0" cy="49.8" r="1.2" fill="#0b2d72"/>
<circle cx="322.6" cy="50.9" r="1.2" fill="#c2f43c"/>
<circle cx="327.2" cy="54.3" r="1.2" fill="#0b2d72"/>
<circle cx="330.0" cy="54.6" r="1.2" fill="#13a186"/>
<circle cx="331.5" cy="54.6" r="1.2" fill="#13a186"/>
<circle cx="333.5" cy="56.1" r="1.2" fill="#c2f43c"/>
<circle cx="339.2" cy="55.3" r="1.2" fill="#13a186"/>
<circle cx="324.3" cy="56.6" r="1.2" fill="#13a186"/>
<circle cx="320.9" cy="60.7" r="1.2" fill="#0b2d72"/>
<circle cx="319.7" cy="63.0" r="1.2" fill="#13a186"/>
<circle cx="321.4" cy="37.7" r="1.2" fill="#ff4fa6"/>
<circle cx="325.0" cy="47.5" r="1.2" fill="#13a186"/>
<circle cx="326.5" cy="52.0" r="1.2" fill="#13a186"/>
<circle cx="313.5" cy="53.5" r="1.2" fill="#13a186"/>
<circle cx="302.0" cy="57.0" r="1.2" fill="#c2f43c"/>
<circle cx="303.5" cy="53.0" r="1.2" fill="#13a186"/>
<circle cx="300.5" cy="62.0" r="1.2" fill="#13a186"/>
<circle cx="314.0" cy="63.5" r="1.2" fill="#0b2d72"/>
<circle cx="317.0" cy="59.0" r="1.2" fill="#c2f43c"/>
<circle cx="325.0" cy="59.5" r="1.2" fill="#13a186"/>
<circle cx="304.0" cy="47.0" r="1.2" fill="#13a186"/>
<line x1="402.1" y1="48.2" x2="471.1" y2="22.2" stroke="#bebebe" stroke-width="1.3"/>
<circle cx="404.3" cy="32.7" r="1.2" fill="#ff4fa6"/>
<path d="M404.3,32.7L404.30,31.50A1.2,1.2 0 0 1 405.01,33.67Z" fill="#0b2d72"/>
<circle cx="408.8" cy="32.2" r="1.2" fill="#ff4fa6"/>
<circle cx="412.6" cy="30.4" r="1.2" fill="#0b2d72"/>
<path d="M412.6,30.4L412.60,29.20A1.2,1.2 0 0 1 413.31,31.37Z" fill="#13a186"/>
<circle cx="417.7" cy="26.7" r="1.2" fill="#ff4fa6"/>
<circle cx="419.2" cy="27.8" r="1.2" fill="#ff4fa6"/>
<circle cx="421.7" cy="28.2" r="1.2" fill="#ff4fa6"/>
<circle cx="423.2" cy="33.3" r="1.2" fill="#ff4fa6"/>
<circle cx="415.4" cy="36.7" r="1.2" fill="#ff4fa6"/>
<circle cx="409.9" cy="40.4" r="1.2" fill="#ff4fa6"/>
<circle cx="407.0" cy="43.3" r="1.2" fill="#ff4fa6"/>
<circle cx="411.4" cy="46.0" r="1.2" fill="#ff4fa6"/>
<circle cx="406.6" cy="48.2" r="1.2" fill="#ff4fa6"/>
<circle cx="407.7" cy="51.1" r="1.2" fill="#ff4fa6"/>
<circle cx="408.8" cy="52.2" r="1.2" fill="#ff4fa6"/>
<circle cx="422.1" cy="50.0" r="1.2" fill="#0b2d72"/>
<path d="M422.1,50.0L422.10,48.80A1.2,1.2 0 0 1 422.81,50.97Z" fill="#ff4fa6"/>
<circle cx="404.3" cy="55.6" r="1.2" fill="#ff4fa6"/>
<circle cx="409.2" cy="56.7" r="1.2" fill="#ff4fa6"/>
<circle cx="414.3" cy="55.6" r="1.2" fill="#0b2d72"/>
<circle cx="401.7" cy="61.6" r="1.2" fill="#0b2d72"/>
<path d="M401.7,61.6L401.70,60.40A1.2,1.2 0 0 1 402.41,62.57Z" fill="#13a186"/>
<circle cx="404.3" cy="60.0" r="1.2" fill="#ff4fa6"/>
<circle cx="416.6" cy="65.6" r="1.2" fill="#ff4fa6"/>
<path d="M416.6,65.6L416.60,64.40A1.2,1.2 0 0 1 417.31,66.57Z" fill="#13a186"/>
<circle cx="436.2" cy="32.7" r="1.2" fill="#ff4fa6"/>
<circle cx="440.0" cy="30.4" r="1.2" fill="#ff4fa6"/>
<circle cx="446.0" cy="27.3" r="1.2" fill="#ff4fa6"/>
<circle cx="448.9" cy="25.1" r="1.2" fill="#ff4fa6"/>
<circle cx="458.9" cy="25.6" r="1.2" fill="#ff4fa6"/>
<circle cx="458.4" cy="28.2" r="1.2" fill="#ff4fa6"/>
<circle cx="463.3" cy="16.2" r="1.2" fill="#ff4fa6"/>
<circle cx="471.8" cy="17.1" r="1.2" fill="#ff4fa6"/>
<circle cx="471.8" cy="21.6" r="1.2" fill="#ff4fa6"/>
<circle cx="472.2" cy="50.0" r="1.2" fill="#ff4fa6"/>
<line x1="297.2" y1="129.3" x2="369.6" y2="138.1" stroke="#bebebe" stroke-width="1.3"/>
<circle cx="316.4" cy="110.4" r="1.2" fill="#13a186"/>
<circle cx="316.8" cy="122.5" r="1.2" fill="#0b2d72"/>
<circle cx="318.2" cy="123.6" r="1.2" fill="#c2f43c"/>
<circle cx="320.3" cy="122.5" r="1.2" fill="#13a186"/>
<circle cx="313.1" cy="125.7" r="1.2" fill="#13a186"/>
<circle cx="315.5" cy="125.7" r="1.2" fill="#c2f43c"/>
<circle cx="309.1" cy="126.8" r="1.2" fill="#0b2d72"/>
<circle cx="310.7" cy="127.9" r="1.2" fill="#0b2d72"/>
<circle cx="308.0" cy="127.4" r="1.2" fill="#13a186"/>
<circle cx="314.2" cy="129.0" r="1.2" fill="#0b2d72"/>
<circle cx="319.0" cy="127.4" r="1.2" fill="#c2f43c"/>
<circle cx="322.0" cy="126.8" r="1.2" fill="#13a186"/>
<circle cx="307.4" cy="130.0" r="1.2" fill="#13a186"/>
<circle cx="310.1" cy="130.8" r="1.2" fill="#c2f43c"/>
<circle cx="314.6" cy="131.1" r="1.2" fill="#0b2d72"/>
<circle cx="314.2" cy="132.5" r="1.2" fill="#13a186"/>
<circle cx="315.5" cy="133.8" r="1.2" fill="#0b2d72"/>
<circle cx="319.3" cy="131.1" r="1.2" fill="#0b2d72"/>
<circle cx="320.3" cy="132.7" r="1.2" fill="#c2f43c"/>
<circle cx="318.2" cy="133.8" r="1.2" fill="#13a186"/>
<circle cx="322.2" cy="133.8" r="1.2" fill="#c2f43c"/>
<circle cx="309.9" cy="133.8" r="1.2" fill="#13a186"/>
<circle cx="305.8" cy="133.0" r="1.2" fill="#c2f43c"/>
<circle cx="297.4" cy="134.0" r="1.2" fill="#c2f43c"/>
<circle cx="309.9" cy="135.7" r="1.2" fill="#13a186"/>
<circle cx="297.2" cy="136.5" r="1.2" fill="#c2f43c"/>
<circle cx="319.8" cy="136.0" r="1.2" fill="#13a186"/>
<circle cx="322.2" cy="136.5" r="1.2" fill="#13a186"/>
<circle cx="329.6" cy="114.7" r="1.2" fill="#13a186"/>
<circle cx="330.7" cy="117.7" r="1.2" fill="#13a186"/>
<circle cx="334.1" cy="121.8" r="1.2" fill="#0b2d72"/>
<circle cx="337.4" cy="121.8" r="1.2" fill="#0b2d72"/>
<circle cx="345.4" cy="124.7" r="1.2" fill="#13a186"/>
<circle cx="341.7" cy="125.2" r="1.2" fill="#ff4fa6"/>
<circle cx="339.3" cy="125.2" r="1.2" fill="#0b2d72"/>
<circle cx="338.4" cy="126.8" r="1.2" fill="#13a186"/>
<circle cx="320.2" cy="123.1" r="1.2" fill="#c2f43c"/>
<circle cx="326.1" cy="123.6" r="1.2" fill="#0b2d72"/>
<circle cx="328.8" cy="124.1" r="1.2" fill="#13a186"/>
<circle cx="322.8" cy="125.7" r="1.2" fill="#13a186"/>
<circle cx="327.7" cy="126.8" r="1.2" fill="#0b2d72"/>
<circle cx="332.0" cy="126.3" r="1.2" fill="#c2f43c"/>
<circle cx="339.5" cy="128.4" r="1.2" fill="#0b2d72"/>
<circle cx="329.6" cy="127.6" r="1.2" fill="#ff4fa6"/>
<circle cx="333.1" cy="128.2" r="1.2" fill="#ff4fa6"/>
<circle cx="324.5" cy="129.0" r="1.2" fill="#13a186"/>
<circle cx="321.8" cy="129.5" r="1.2" fill="#c2f43c"/>
<circle cx="319.1" cy="130.6" r="1.2" fill="#13a186"/>
<circle cx="328.2" cy="129.5" r="1.2" fill="#0b2d72"/>
<circle cx="326.1" cy="131.1" r="1.2" fill="#c2f43c"/>
<circle cx="330.9" cy="130.6" r="1.2" fill="#0b2d72"/>
<circle cx="336.8" cy="130.6" r="1.2" fill="#13a186"/>
<circle cx="339.5" cy="131.1" r="1.2" fill="#13a186"/>
<circle cx="331.4" cy="132.7" r="1.2" fill="#c2f43c"/>
<circle cx="328.8" cy="133.8" r="1.2" fill="#0b2d72"/>
<circle cx="333.1" cy="133.8" r="1.2" fill="#c2f43c"/>
<circle cx="322.8" cy="134.3" r="1.2" fill="#13a186"/>
<circle cx="320.7" cy="133.3" r="1.2" fill="#0b2d72"/>
<circle cx="342.7" cy="133.8" r="1.2" fill="#13a186"/>
<circle cx="340.6" cy="134.3" r="1.2" fill="#13a186"/>
<circle cx="347.0" cy="132.2" r="1.2" fill="#13a186"/>
<circle cx="325.5" cy="136.5" r="1.2" fill="#c2f43c"/>
<circle cx="329.8" cy="136.5" r="1.2" fill="#13a186"/>
<circle cx="341.7" cy="137.0" r="1.2" fill="#0b2d72"/>
<circle cx="305.9" cy="133.0" r="1.2" fill="#c2f43c"/>
<circle cx="309.9" cy="137.3" r="1.2" fill="#c2f43c"/>
<circle cx="311.3" cy="140.5" r="1.2" fill="#13a186"/>
<circle cx="315.6" cy="133.8" r="1.2" fill="#0b2d72"/>
<circle cx="319.9" cy="135.4" r="1.2" fill="#13a186"/>
<circle cx="323.1" cy="134.3" r="1.2" fill="#c2f43c"/>
<circle cx="324.7" cy="138.8" r="1.2" fill="#c2f43c"/>
<circle cx="324.5" cy="139.9" r="1.2" fill="#ff4fa6"/>
<circle cx="326.9" cy="138.1" r="1.2" fill="#13a186"/>
<circle cx="328.0" cy="139.7" r="1.2" fill="#13a186"/>
<circle cx="329.0" cy="138.6" r="1.2" fill="#0b2d72"/>
<circle cx="331.2" cy="137.5" r="1.2" fill="#13a186"/>
<circle cx="329.6" cy="134.8" r="1.2" fill="#13a186"/>
<circle cx="332.3" cy="133.2" r="1.2" fill="#c2f43c"/>
<circle cx="324.2" cy="142.9" r="1.2" fill="#13a186"/>
<circle cx="326.3" cy="142.9" r="1.2" fill="#13a186"/>
<circle cx="330.1" cy="143.4" r="1.2" fill="#13a186"/>
<circle cx="331.7" cy="142.9" r="1.2" fill="#ff4fa6"/>
<circle cx="333.9" cy="145.1" r="1.2" fill="#0b2d72"/>
<circle cx="333.9" cy="141.3" r="1.2" fill="#c2f43c"/>
<circle cx="323.1" cy="146.7" r="1.2" fill="#13a186"/>
<circle cx="325.3" cy="147.2" r="1.2" fill="#13a186"/>
<circle cx="327.4" cy="151.3" r="1.2" fill="#13a186"/>
<circle cx="332.3" cy="150.2" r="1.2" fill="#13a186"/>
<circle cx="337.6" cy="140.2" r="1.2" fill="#13a186"/>
<circle cx="337.4" cy="143.4" r="1.2" fill="#13a186"/>
<circle cx="339.2" cy="144.5" r="1.2" fill="#ff4fa6"/>
<circle cx="337.6" cy="146.1" r="1.2" fill="#13a186"/>
<circle cx="337.5" cy="121.9" r="1.2" fill="#0b2d72"/>
<circle cx="353.7" cy="120.8" r="1.2" fill="#0b2d72"/>
<path d="M353.7,120.8L353.70,119.60A1.2,1.2 0 0 1 354.41,121.77Z" fill="#ff4fa6"/>
<circle cx="339.4" cy="124.9" r="1.2" fill="#0b2d72"/>
<circle cx="345.6" cy="124.9" r="1.2" fill="#13a186"/>
<circle cx="353.0" cy="125.4" r="1.2" fill="#ff4fa6"/>
<circle cx="338.8" cy="128.0" r="1.2" fill="#0b2d72"/>
<circle cx="340.3" cy="128.5" r="1.2" fill="#0b2d72"/>
<circle cx="337.2" cy="130.3" r="1.2" fill="#13a186"/>
<circle cx="339.4" cy="131.6" r="1.2" fill="#13a186"/>
<circle cx="348.3" cy="131.9" r="1.2" fill="#13a186"/>
<circle cx="357.9" cy="131.6" r="1.2" fill="#ff4fa6"/>
<circle cx="369.6" cy="128.8" r="1.2" fill="#c2f43c"/>
<circle cx="339.4" cy="134.2" r="1.2" fill="#13a186"/>
<circle cx="342.5" cy="133.4" r="1.2" fill="#c2f43c"/>
<circle cx="342.9" cy="135.0" r="1.2" fill="#13a186"/>
<circle cx="353.3" cy="134.2" r="1.2" fill="#ff4fa6"/>
<circle cx="351.7" cy="137.3" r="1.2" fill="#13a186"/>
<circle cx="351.1" cy="138.8" r="1.2" fill="#13a186"/>
<circle cx="356.1" cy="138.8" r="1.2" fill="#0b2d72"/>
<circle cx="344.5" cy="139.6" r="1.2" fill="#13a186"/>
<circle cx="339.4" cy="140.4" r="1.2" fill="#ff4fa6"/>
<circle cx="337.2" cy="143.9" r="1.2" fill="#13a186"/>
<circle cx="339.4" cy="145.0" r="1.2" fill="#ff4fa6"/>
<circle cx="341.9" cy="143.0" r="1.2" fill="#ff4fa6"/>
<circle cx="337.9" cy="146.5" r="1.2" fill="#13a186"/>
<circle cx="351.4" cy="147.0" r="1.2" fill="#0b2d72"/>
<circle cx="358.8" cy="147.6" r="1.2" fill="#ff4fa6"/>
<circle cx="361.0" cy="149.2" r="1.2" fill="#0b2d72"/>
<circle cx="370.3" cy="147.0" r="1.2" fill="#13a186"/>
<circle cx="355.3" cy="154.7" r="1.2" fill="#0b2d72"/>
<line x1="407.7" y1="134.7" x2="466.3" y2="124.4" stroke="#bebebe" stroke-width="1.3"/>
<circle cx="407.1" cy="121.3" r="1.2" fill="#ff4fa6"/>
<circle cx="407.7" cy="134.7" r="1.2" fill="#ff4fa6"/>
<circle cx="411.5" cy="135.9" r="1.2" fill="#ff4fa6"/>
<circle cx="418.1" cy="130.5" r="1.2" fill="#ff4fa6"/>
<circle cx="422.3" cy="127.0" r="1.2" fill="#0b2d72"/>
<circle cx="426.5" cy="127.0" r="1.2" fill="#ff4fa6"/>
<circle cx="432.7" cy="124.9" r="1.2" fill="#0b2d72"/>
<path d="M432.7,124.9L432.70,123.70A1.2,1.2 0 0 1 433.41,125.87Z" fill="#13a186"/>
<circle cx="432.7" cy="132.2" r="1.2" fill="#ff4fa6"/>
<circle cx="410.8" cy="156.1" r="1.2" fill="#ff4fa6"/>
<path d="M410.8,156.1L410.80,154.90A1.2,1.2 0 0 1 411.51,157.07Z" fill="#0b2d72"/>
<circle cx="436.2" cy="135.8" r="1.2" fill="#0b2d72"/>
<path d="M436.2,135.8L436.20,134.60A1.2,1.2 0 0 1 436.91,136.77Z" fill="#13a186"/>
<circle cx="437.9" cy="134.5" r="1.2" fill="#ff4fa6"/>
<circle cx="439.3" cy="131.6" r="1.2" fill="#ff4fa6"/>
<circle cx="442.4" cy="124.2" r="1.2" fill="#ff4fa6"/>
<path d="M442.4,124.2L442.40,123.00A1.2,1.2 0 0 1 443.11,125.17Z" fill="#0b2d72"/>
<circle cx="442.9" cy="127.5" r="1.2" fill="#ff4fa6"/>
<circle cx="447.6" cy="117.5" r="1.2" fill="#ff4fa6"/>
<circle cx="448.3" cy="120.0" r="1.2" fill="#ff4fa6"/>
<circle cx="451.4" cy="113.4" r="1.2" fill="#ff4fa6"/>
<circle cx="452.8" cy="117.1" r="1.2" fill="#ff4fa6"/>
<circle cx="451.4" cy="123.7" r="1.2" fill="#0b2d72"/>
<path d="M451.4,123.7L451.40,122.50A1.2,1.2 0 0 1 452.11,124.67Z" fill="#ff4fa6"/>
<circle cx="450.7" cy="128.9" r="1.2" fill="#ff4fa6"/>
<circle cx="456.6" cy="129.6" r="1.2" fill="#ff4fa6"/>
<circle cx="459.0" cy="121.3" r="1.2" fill="#ff4fa6"/>
<circle cx="461.1" cy="122.7" r="1.2" fill="#ff4fa6"/>
<circle cx="463.6" cy="117.5" r="1.2" fill="#ff4fa6"/>
<circle cx="466.3" cy="122.7" r="1.2" fill="#ff4fa6"/>
<circle cx="451.8" cy="139.3" r="1.2" fill="#ff4fa6"/>
<circle cx="458.6" cy="138.7" r="1.2" fill="#ff4fa6"/>
<circle cx="461.1" cy="136.6" r="1.2" fill="#ff4fa6"/>
<circle cx="466.3" cy="135.2" r="1.2" fill="#ff4fa6"/>
<circle cx="438.3" cy="142.8" r="1.2" fill="#13a186"/>
<line x1="294.4" y1="209.2" x2="344.9" y2="234.6" stroke="#bebebe" stroke-width="1.3"/>
<circle cx="298.2" cy="197.9" r="1.2" fill="#0b2d72"/>
<circle cx="299.8" cy="201.6" r="1.2" fill="#13a186"/>
<circle cx="303.8" cy="201.6" r="1.2" fill="#0b2d72"/>
<circle cx="306.3" cy="201.0" r="1.2" fill="#13a186"/>
<circle cx="318.6" cy="199.5" r="1.2" fill="#0b2d72"/>
<circle cx="298.5" cy="205.8" r="1.2" fill="#13a186"/>
<circle cx="303.8" cy="205.0" r="1.2" fill="#0b2d72"/>
<circle cx="306.3" cy="205.0" r="1.2" fill="#0b2d72"/>
<circle cx="311.3" cy="203.8" r="1.2" fill="#13a186"/>
<circle cx="301.9" cy="208.5" r="1.2" fill="#13a186"/>
<circle cx="303.8" cy="208.3" r="1.2" fill="#c2f43c"/>
<circle cx="305.7" cy="209.2" r="1.2" fill="#13a186"/>
<circle cx="308.6" cy="210.4" r="1.2" fill="#13a186"/>
<circle cx="313.2" cy="208.5" r="1.2" fill="#13a186"/>
<circle cx="315.7" cy="207.3" r="1.2" fill="#13a186"/>
<circle cx="318.9" cy="209.8" r="1.2" fill="#13a186"/>
<circle cx="299.0" cy="212.3" r="1.2" fill="#c2f43c"/>
<circle cx="299.4" cy="215.4" r="1.2" fill="#c2f43c"/>
<circle cx="302.5" cy="212.6" r="1.2" fill="#0b2d72"/>
<circle cx="304.8" cy="212.3" r="1.2" fill="#c2f43c"/>
<circle cx="307.6" cy="213.6" r="1.2" fill="#13a186"/>
<circle cx="312.6" cy="211.7" r="1.2" fill="#13a186"/>
<circle cx="314.5" cy="213.3" r="1.2" fill="#c2f43c"/>
<circle cx="315.7" cy="211.7" r="1.2" fill="#0b2d72"/>
<circle cx="303.8" cy="216.1" r="1.2" fill="#13a186"/>
<circle cx="308.2" cy="216.7" r="1.2" fill="#13a186"/>
<circle cx="313.2" cy="216.1" r="1.2" fill="#c2f43c"/>
<circle cx="315.1" cy="215.8" r="1.2" fill="#c2f43c"/>
<circle cx="305.7" cy="218.0" r="1.2" fill="#0b2d72"/>
<circle cx="310.1" cy="218.3" r="1.2" fill="#0b2d72"/>
<circle cx="315.1" cy="218.6" r="1.2" fill="#13a186"/>
<circle cx="318.6" cy="218.0" r="1.2" fill="#0b2d72"/>
<circle cx="293.8" cy="221.1" r="1.2" fill="#0b2d72"/>
<circle cx="301.5" cy="222.3" r="1.2" fill="#0b2d72"/>
<circle cx="303.2" cy="222.3" r="1.2" fill="#0b2d72"/>
<circle cx="306.3" cy="222.6" r="1.2" fill="#0b2d72"/>
<circle cx="299.4" cy="223.0" r="1.2" fill="#13a186"/>
<circle cx="309.4" cy="221.7" r="1.2" fill="#0b2d72"/>
<circle cx="312.0" cy="221.7" r="1.2" fill="#13a186"/>
<circle cx="316.3" cy="222.3" r="1.2" fill="#0b2d72"/>
<circle cx="320.7" cy="220.5" r="1.2" fill="#13a186"/>
<circle cx="318.2" cy="224.9" r="1.2" fill="#13a186"/>
<circle cx="296.0" cy="225.9" r="1.2" fill="#0b2d72"/>
<circle cx="300.0" cy="226.4" r="1.2" fill="#13a186"/>
<circle cx="303.8" cy="225.5" r="1.2" fill="#13a186"/>
<circle cx="308.8" cy="228.0" r="1.2" fill="#13a186"/>
<circle cx="320.1" cy="229.6" r="1.2" fill="#0b2d72"/>
<circle cx="316.6" cy="226.1" r="1.2" fill="#13a186"/>
<circle cx="318.6" cy="199.8" r="1.2" fill="#13a186"/>
<circle cx="319.0" cy="209.8" r="1.2" fill="#13a186"/>
<circle cx="326.5" cy="211.7" r="1.2" fill="#13a186"/>
<circle cx="325.8" cy="214.8" r="1.2" fill="#13a186"/>
<circle cx="329.3" cy="214.2" r="1.2" fill="#c2f43c"/>
<circle cx="322.0" cy="217.3" r="1.2" fill="#13a186"/>
<circle cx="321.1" cy="219.2" r="1.2" fill="#c2f43c"/>
<circle cx="324.3" cy="218.8" r="1.2" fill="#0b2d72"/>
<circle cx="326.2" cy="218.8" r="1.2" fill="#13a186"/>
<circle cx="319.3" cy="221.1" r="1.2" fill="#13a186"/>
<circle cx="322.0" cy="222.3" r="1.2" fill="#0b2d72"/>
<circle cx="324.9" cy="223.9" r="1.2" fill="#13a186"/>
<circle cx="323.0" cy="226.1" r="1.2" fill="#0b2d72"/>
<circle cx="326.8" cy="226.1" r="1.2" fill="#13a186"/>
<circle cx="327.8" cy="227.1" r="1.2" fill="#c2f43c"/>
<circle cx="329.9" cy="225.1" r="1.2" fill="#0b2d72"/>
<circle cx="332.1" cy="226.1" r="1.2" fill="#13a186"/>
<circle cx="334.9" cy="225.9" r="1.2" fill="#13a186"/>
<circle cx="336.6" cy="227.6" r="1.2" fill="#13a186"/>
<circle cx="300.2" cy="226.8" r="1.2" fill="#c2f43c"/>
<circle cx="309.1" cy="227.9" r="1.2" fill="#13a186"/>
<circle cx="312.0" cy="225.8" r="1.2" fill="#13a186"/>
<circle cx="315.8" cy="226.3" r="1.2" fill="#13a186"/>
<circle cx="312.8" cy="234.7" r="1.2" fill="#0b2d72"/>
<circle cx="315.8" cy="233.3" r="1.2" fill="#0b2d72"/>
<circle cx="318.2" cy="233.3" r="1.2" fill="#ff4fa6"/>
<circle cx="318.2" cy="235.1" r="1.2" fill="#13a186"/>
<circle cx="322.8" cy="232.8" r="1.2" fill="#0b2d72"/>
<circle cx="325.5" cy="234.9" r="1.2" fill="#ff4fa6"/>
<circle cx="328.2" cy="235.8" r="1.2" fill="#ff4fa6"/>
<circle cx="329.0" cy="234.9" r="1.2" fill="#ff4fa6"/>
<circle cx="330.0" cy="235.9" r="1.2" fill="#13a186"/>
<circle cx="331.0" cy="235.1" r="1.2" fill="#ff4fa6"/>
<circle cx="332.3" cy="237.5" r="1.2" fill="#0b2d72"/>
<circle cx="335.6" cy="237.5" r="1.2" fill="#ff4fa6"/>
<circle cx="337.6" cy="235.9" r="1.2" fill="#ff4fa6"/>
<circle cx="332.7" cy="240.8" r="1.2" fill="#ff4fa6"/>
<circle cx="344.9" cy="236.9" r="1.2" fill="#ff4fa6"/>
<circle cx="330.0" cy="224.5" r="1.2" fill="#0b2d72"/>
<circle cx="298.8" cy="213.9" r="1.2" fill="#c2f43c"/>
<circle cx="299.4" cy="215.5" r="1.2" fill="#c2f43c"/>
<circle cx="301.5" cy="208.0" r="1.2" fill="#13a186"/>
<circle cx="303.1" cy="208.5" r="1.2" fill="#13a186"/>
<circle cx="304.8" cy="211.2" r="1.2" fill="#c2f43c"/>
<circle cx="305.8" cy="212.3" r="1.2" fill="#c2f43c"/>
<circle cx="306.9" cy="210.1" r="1.2" fill="#13a186"/>
<circle cx="308.0" cy="212.3" r="1.2" fill="#0b2d72"/>
<circle cx="308.5" cy="214.4" r="1.2" fill="#13a186"/>
<circle cx="305.3" cy="217.1" r="1.2" fill="#0b2d72"/>
<circle cx="306.9" cy="216.6" r="1.2" fill="#13a186"/>
<circle cx="310.1" cy="216.6" r="1.2" fill="#0b2d72"/>
<circle cx="311.2" cy="217.1" r="1.2" fill="#13a186"/>
<circle cx="312.8" cy="208.5" r="1.2" fill="#13a186"/>
<circle cx="313.9" cy="210.1" r="1.2" fill="#13a186"/>
<circle cx="315.0" cy="212.8" r="1.2" fill="#c2f43c"/>
<circle cx="316.0" cy="214.4" r="1.2" fill="#c2f43c"/>
<circle cx="314.4" cy="215.5" r="1.2" fill="#13a186"/>
<circle cx="316.0" cy="216.6" r="1.2" fill="#13a186"/>
<circle cx="314.4" cy="217.1" r="1.2" fill="#c2f43c"/>
<circle cx="318.7" cy="218.2" r="1.2" fill="#0b2d72"/>
<circle cx="321.4" cy="216.6" r="1.2" fill="#13a186"/>
<circle cx="322.0" cy="218.7" r="1.2" fill="#13a186"/>
<circle cx="325.2" cy="218.7" r="1.2" fill="#13a186"/>
<circle cx="325.7" cy="213.9" r="1.2" fill="#13a186"/>
<circle cx="326.3" cy="211.7" r="1.2" fill="#13a186"/>
<circle cx="329.0" cy="213.9" r="1.2" fill="#c2f43c"/>
<circle cx="317.7" cy="210.1" r="1.2" fill="#0b2d72"/>
<circle cx="316.0" cy="207.4" r="1.2" fill="#13a186"/>
<circle cx="313.4" cy="208.0" r="1.2" fill="#0b2d72"/>
<circle cx="302.6" cy="212.8" r="1.2" fill="#0b2d72"/>
<circle cx="302.1" cy="216.6" r="1.2" fill="#0b2d72"/>
<circle cx="304.8" cy="219.8" r="1.2" fill="#13a186"/>
<circle cx="308.0" cy="220.3" r="1.2" fill="#0b2d72"/>
<circle cx="310.1" cy="222.0" r="1.2" fill="#0b2d72"/>
<circle cx="312.8" cy="220.9" r="1.2" fill="#13a186"/>
<circle cx="316.6" cy="222.5" r="1.2" fill="#0b2d72"/>
<circle cx="319.3" cy="222.5" r="1.2" fill="#c2f43c"/>
<line x1="395.6" y1="220.1" x2="469.8" y2="243.2" stroke="#bebebe" stroke-width="1.3"/>
<circle cx="395.0" cy="203.6" r="1.2" fill="#0b2d72"/>
<path d="M395.0,203.6L395.00,202.40A1.2,1.2 0 0 1 395.71,204.57Z" fill="#13a186"/>
<circle cx="402.5" cy="207.0" r="1.2" fill="#ff4fa6"/>
<circle cx="411.1" cy="207.6" r="1.2" fill="#0b2d72"/>
<path d="M411.1,207.6L411.10,206.40A1.2,1.2 0 0 1 411.81,208.57Z" fill="#ff4fa6"/>
<circle cx="398.0" cy="213.1" r="1.2" fill="#ff4fa6"/>
<circle cx="404.1" cy="215.1" r="1.2" fill="#ff4fa6"/>
<circle cx="409.1" cy="215.1" r="1.2" fill="#0b2d72"/>
<path d="M409.1,215.1L409.10,213.90A1.2,1.2 0 0 1 409.81,216.07Z" fill="#13a186"/>
<circle cx="398.0" cy="218.5" r="1.2" fill="#ff4fa6"/>
<circle cx="403.1" cy="220.1" r="1.2" fill="#ff4fa6"/>
<circle cx="405.7" cy="219.7" r="1.2" fill="#ff4fa6"/>
<circle cx="400.5" cy="222.1" r="1.2" fill="#ff4fa6"/>
<circle cx="417.1" cy="222.1" r="1.2" fill="#0b2d72"/>
<path d="M417.1,222.1L417.10,220.90A1.2,1.2 0 0 1 417.81,223.07Z" fill="#ff4fa6"/>
<circle cx="401.1" cy="225.1" r="1.2" fill="#ff4fa6"/>
<circle cx="398.4" cy="231.1" r="1.2" fill="#0b2d72"/>
<path d="M398.4,231.1L398.40,229.90A1.2,1.2 0 0 1 399.11,232.07Z" fill="#13a186"/>
<circle cx="407.1" cy="233.1" r="1.2" fill="#0b2d72"/>
<path d="M407.1,233.1L407.10,231.90A1.2,1.2 0 0 1 407.81,234.07Z" fill="#13a186"/>
<circle cx="410.1" cy="231.7" r="1.2" fill="#ff4fa6"/>
<circle cx="411.7" cy="233.1" r="1.2" fill="#ff4fa6"/>
<circle cx="413.7" cy="233.8" r="1.2" fill="#ff4fa6"/>
<circle cx="417.1" cy="231.1" r="1.2" fill="#ff4fa6"/>
<circle cx="418.5" cy="232.7" r="1.2" fill="#ff4fa6"/>
<circle cx="403.7" cy="235.2" r="1.2" fill="#ff4fa6"/>
<circle cx="431.8" cy="238.6" r="1.2" fill="#ff4fa6"/>
<circle cx="432.0" cy="238.6" r="1.2" fill="#ff4fa6"/>
<circle cx="436.4" cy="236.2" r="1.2" fill="#ff4fa6"/>
<circle cx="443.1" cy="232.5" r="1.2" fill="#ff4fa6"/>
<circle cx="445.1" cy="237.2" r="1.2" fill="#ff4fa6"/>
<circle cx="455.7" cy="241.2" r="1.2" fill="#ff4fa6"/>
<circle cx="456.5" cy="242.2" r="1.2" fill="#ff4fa6"/>
<circle cx="461.1" cy="240.6" r="1.2" fill="#ff4fa6"/>
<circle cx="470.2" cy="233.8" r="1.2" fill="#ff4fa6"/>
<circle cx="469.8" cy="240.6" r="1.2" fill="#ff4fa6"/>
<circle cx="469.8" cy="242.6" r="1.2" fill="#ff4fa6"/>
<text x="296.5" y="6.6" font-size="10" fill="#1a1a1a" stroke="#1a1a1a" stroke-width="0.25" text-anchor="start" font-weight="normal">invaded</text>
<text x="393.5" y="6.6" font-size="10" fill="#1a1a1a" stroke="#1a1a1a" stroke-width="0.25" text-anchor="start" font-weight="normal">native</text>
<rect x="293.6" y="10.5" width="87.89999999999998" height="62.2" fill="none" stroke="#2b2b2b" stroke-width="1.1"/>
<line x1="308.7" y1="72.7" x2="308.7" y2="76.7" stroke="#2b2b2b" stroke-width="1.25"/>
<line x1="331.9" y1="72.7" x2="331.9" y2="76.7" stroke="#2b2b2b" stroke-width="1.25"/>
<line x1="354.2" y1="72.7" x2="354.2" y2="76.7" stroke="#2b2b2b" stroke-width="1.25"/>
<line x1="377.2" y1="72.7" x2="377.2" y2="76.7" stroke="#2b2b2b" stroke-width="1.25"/>
<line x1="289.6" y1="13.1" x2="293.6" y2="13.1" stroke="#2b2b2b" stroke-width="1.25"/>
<line x1="289.6" y1="24.4" x2="293.6" y2="24.4" stroke="#2b2b2b" stroke-width="1.25"/>
<text x="287.40000000000003" y="28.799999999999997" font-size="9.7" fill="#4d4d4d" text-anchor="end" font-weight="normal">4</text>
<line x1="289.6" y1="35.7" x2="293.6" y2="35.7" stroke="#2b2b2b" stroke-width="1.25"/>
<line x1="289.6" y1="47.1" x2="293.6" y2="47.1" stroke="#2b2b2b" stroke-width="1.25"/>
<text x="287.40000000000003" y="51.5" font-size="9.7" fill="#4d4d4d" text-anchor="end" font-weight="normal">0</text>
<line x1="289.6" y1="58.4" x2="293.6" y2="58.4" stroke="#2b2b2b" stroke-width="1.25"/>
<line x1="289.6" y1="69.7" x2="293.6" y2="69.7" stroke="#2b2b2b" stroke-width="1.25"/>
<text x="287.40000000000003" y="74.10000000000001" font-size="9.7" fill="#4d4d4d" text-anchor="end" font-weight="normal">−4</text>
<rect x="391.0" y="10.5" width="87.30000000000001" height="62.2" fill="none" stroke="#2b2b2b" stroke-width="1.1"/>
<line x1="405.9" y1="72.7" x2="405.9" y2="76.7" stroke="#2b2b2b" stroke-width="1.25"/>
<line x1="428.9" y1="72.7" x2="428.9" y2="76.7" stroke="#2b2b2b" stroke-width="1.25"/>
<line x1="451.6" y1="72.7" x2="451.6" y2="76.7" stroke="#2b2b2b" stroke-width="1.25"/>
<line x1="474.4" y1="72.7" x2="474.4" y2="76.7" stroke="#2b2b2b" stroke-width="1.25"/>
<line x1="387.0" y1="13.1" x2="391.0" y2="13.1" stroke="#2b2b2b" stroke-width="1.25"/>
<line x1="387.0" y1="24.4" x2="391.0" y2="24.4" stroke="#2b2b2b" stroke-width="1.25"/>
<line x1="387.0" y1="35.7" x2="391.0" y2="35.7" stroke="#2b2b2b" stroke-width="1.25"/>
<line x1="387.0" y1="47.1" x2="391.0" y2="47.1" stroke="#2b2b2b" stroke-width="1.25"/>
<line x1="387.0" y1="58.4" x2="391.0" y2="58.4" stroke="#2b2b2b" stroke-width="1.25"/>
<line x1="387.0" y1="69.7" x2="391.0" y2="69.7" stroke="#2b2b2b" stroke-width="1.25"/>
<text x="309.4" y="85.3" font-size="9.7" fill="#4d4d4d" text-anchor="middle" font-weight="normal">1000</text>
<text x="375.3" y="85.3" font-size="9.7" fill="#4d4d4d" text-anchor="middle" font-weight="normal">4000</text>
<text x="407" y="85.3" font-size="9.7" fill="#4d4d4d" text-anchor="middle" font-weight="normal">1000</text>
<text x="473" y="85.3" font-size="9.7" fill="#4d4d4d" text-anchor="middle" font-weight="normal">4000</text>
<text x="386" y="95.7" font-size="10" fill="#1a1a1a" stroke="#1a1a1a" stroke-width="0.25" text-anchor="middle" font-weight="normal">Maximum vapor pressure deficit (Pa)</text>
<text x="274.5" y="41.5" font-size="10" fill="#1a1a1a" stroke="#1a1a1a" stroke-width="0.25" text-anchor="middle" font-weight="normal" transform="rotate(-90 274.5 41.5)">PC1</text>
<rect x="293.7" y="103.5" width="87.80000000000001" height="58.0" fill="none" stroke="#2b2b2b" stroke-width="1.1"/>
<line x1="296.9" y1="161.5" x2="296.9" y2="165.5" stroke="#2b2b2b" stroke-width="1.25"/>
<line x1="323.7" y1="161.5" x2="323.7" y2="165.5" stroke="#2b2b2b" stroke-width="1.25"/>
<text x="323.7" y="174.8" font-size="9.7" fill="#4d4d4d" text-anchor="middle" font-weight="normal">−3.15</text>
<line x1="350.6" y1="161.5" x2="350.6" y2="165.5" stroke="#2b2b2b" stroke-width="1.25"/>
<text x="350.6" y="174.8" font-size="9.7" fill="#4d4d4d" text-anchor="middle" font-weight="normal">4.35</text>
<line x1="377.2" y1="161.5" x2="377.2" y2="165.5" stroke="#2b2b2b" stroke-width="1.25"/>
<text x="377.2" y="174.8" font-size="9.7" fill="#4d4d4d" text-anchor="middle" font-weight="normal">11.85</text>
<line x1="289.7" y1="105.7" x2="293.7" y2="105.7" stroke="#2b2b2b" stroke-width="1.25"/>
<text x="287.5" y="110.10000000000001" font-size="9.7" fill="#4d4d4d" text-anchor="end" font-weight="normal">5</text>
<line x1="289.7" y1="118.9" x2="293.7" y2="118.9" stroke="#2b2b2b" stroke-width="1.25"/>
<line x1="289.7" y1="132.1" x2="293.7" y2="132.1" stroke="#2b2b2b" stroke-width="1.25"/>
<text x="287.5" y="136.5" font-size="9.7" fill="#4d4d4d" text-anchor="end" font-weight="normal">0</text>
<line x1="289.7" y1="145.3" x2="293.7" y2="145.3" stroke="#2b2b2b" stroke-width="1.25"/>
<line x1="289.7" y1="158.5" x2="293.7" y2="158.5" stroke="#2b2b2b" stroke-width="1.25"/>
<text x="287.5" y="162.9" font-size="9.7" fill="#4d4d4d" text-anchor="end" font-weight="normal">−5</text>
<text x="295.2" y="174.8" font-size="9.7" fill="#4d4d4d" text-anchor="middle" font-weight="normal">−10.65</text>
<rect x="390.5" y="103.5" width="88.0" height="58.0" fill="none" stroke="#2b2b2b" stroke-width="1.1"/>
<line x1="394" y1="161.5" x2="394" y2="165.5" stroke="#2b2b2b" stroke-width="1.25"/>
<line x1="420.8" y1="161.5" x2="420.8" y2="165.5" stroke="#2b2b2b" stroke-width="1.25"/>
<text x="420.8" y="174.8" font-size="9.7" fill="#4d4d4d" text-anchor="middle" font-weight="normal">−3.15</text>
<line x1="447.7" y1="161.5" x2="447.7" y2="165.5" stroke="#2b2b2b" stroke-width="1.25"/>
<text x="447.7" y="174.8" font-size="9.7" fill="#4d4d4d" text-anchor="middle" font-weight="normal">4.35</text>
<line x1="474.2" y1="161.5" x2="474.2" y2="165.5" stroke="#2b2b2b" stroke-width="1.25"/>
<text x="474.2" y="174.8" font-size="9.7" fill="#4d4d4d" text-anchor="middle" font-weight="normal">11.85</text>
<line x1="386.5" y1="105.7" x2="390.5" y2="105.7" stroke="#2b2b2b" stroke-width="1.25"/>
<line x1="386.5" y1="118.9" x2="390.5" y2="118.9" stroke="#2b2b2b" stroke-width="1.25"/>
<line x1="386.5" y1="132.1" x2="390.5" y2="132.1" stroke="#2b2b2b" stroke-width="1.25"/>
<line x1="386.5" y1="145.3" x2="390.5" y2="145.3" stroke="#2b2b2b" stroke-width="1.25"/>
<line x1="386.5" y1="158.5" x2="390.5" y2="158.5" stroke="#2b2b2b" stroke-width="1.25"/>
<text x="386" y="184.6" font-size="10" fill="#1a1a1a" stroke="#1a1a1a" stroke-width="0.25" text-anchor="middle" font-weight="normal">Mean winter temperature (ºC)</text>
<text x="274.5" y="132" font-size="10" fill="#1a1a1a" stroke="#1a1a1a" stroke-width="0.25" text-anchor="middle" font-weight="normal" transform="rotate(-90 274.5 132)">PC2</text>
<rect x="289.8" y="193" width="90.0" height="59.5" fill="none" stroke="#2b2b2b" stroke-width="1.1"/>
<line x1="308.9" y1="252.5" x2="308.9" y2="256.5" stroke="#2b2b2b" stroke-width="1.25"/>
<text x="308.9" y="265.8" font-size="9.7" fill="#4d4d4d" text-anchor="middle" font-weight="normal">1250</text>
<line x1="339.4" y1="252.5" x2="339.4" y2="256.5" stroke="#2b2b2b" stroke-width="1.25"/>
<text x="339.4" y="265.8" font-size="9.7" fill="#4d4d4d" text-anchor="middle" font-weight="normal">2500</text>
<line x1="369.4" y1="252.5" x2="369.4" y2="256.5" stroke="#2b2b2b" stroke-width="1.25"/>
<text x="369.4" y="265.8" font-size="9.7" fill="#4d4d4d" text-anchor="middle" font-weight="normal">3750</text>
<line x1="285.8" y1="198.4" x2="289.8" y2="198.4" stroke="#2b2b2b" stroke-width="1.25"/>
<text x="283.6" y="202.8" font-size="9.7" fill="#4d4d4d" text-anchor="end" font-weight="normal">250</text>
<line x1="285.8" y1="213.35" x2="289.8" y2="213.35" stroke="#2b2b2b" stroke-width="1.25"/>
<line x1="285.8" y1="228.3" x2="289.8" y2="228.3" stroke="#2b2b2b" stroke-width="1.25"/>
<line x1="285.8" y1="243.25" x2="289.8" y2="243.25" stroke="#2b2b2b" stroke-width="1.25"/>
<text x="283.6" y="247.65" font-size="9.7" fill="#4d4d4d" text-anchor="end" font-weight="normal">100</text>
<rect x="387.1" y="193" width="91.39999999999998" height="59.5" fill="none" stroke="#2b2b2b" stroke-width="1.1"/>
<line x1="406.6" y1="252.5" x2="406.6" y2="256.5" stroke="#2b2b2b" stroke-width="1.25"/>
<text x="406.6" y="265.8" font-size="9.7" fill="#4d4d4d" text-anchor="middle" font-weight="normal">1250</text>
<line x1="436.5" y1="252.5" x2="436.5" y2="256.5" stroke="#2b2b2b" stroke-width="1.25"/>
<text x="436.5" y="265.8" font-size="9.7" fill="#4d4d4d" text-anchor="middle" font-weight="normal">2500</text>
<line x1="466.5" y1="252.5" x2="466.5" y2="256.5" stroke="#2b2b2b" stroke-width="1.25"/>
<text x="466.5" y="265.8" font-size="9.7" fill="#4d4d4d" text-anchor="middle" font-weight="normal">3750</text>
<line x1="383.1" y1="198.4" x2="387.1" y2="198.4" stroke="#2b2b2b" stroke-width="1.25"/>
<line x1="383.1" y1="213.35" x2="387.1" y2="213.35" stroke="#2b2b2b" stroke-width="1.25"/>
<line x1="383.1" y1="228.3" x2="387.1" y2="228.3" stroke="#2b2b2b" stroke-width="1.25"/>
<line x1="383.1" y1="243.25" x2="387.1" y2="243.25" stroke="#2b2b2b" stroke-width="1.25"/>
<text x="386" y="276.4" font-size="10" fill="#1a1a1a" stroke="#1a1a1a" stroke-width="0.25" text-anchor="middle" font-weight="normal">Maximum vapor pressure deficit (Pa)</text>
<text x="262" y="220.5" font-size="10" fill="#1a1a1a" stroke="#1a1a1a" stroke-width="0.25" text-anchor="middle" font-weight="normal" transform="rotate(-90 262 220.5)">Days to</text>
<text x="273.1" y="220.5" font-size="10" fill="#1a1a1a" stroke="#1a1a1a" stroke-width="0.25" text-anchor="middle" font-weight="normal" transform="rotate(-90 273.1 220.5)">flower</text>
<text x="339.3" y="66.6" font-size="10" fill="#1a1a1a">R<tspan font-size="7.3" dy="-3.3">2</tspan><tspan dy="3.3">=0.3</tspan><tspan font-size="9.4" dy="-0.2">*</tspan></text>
<text x="427" y="66.1" font-size="10" fill="#1a1a1a">R<tspan font-size="7.3" dy="-3.3">2</tspan><tspan dy="3.3">=0.4</tspan><tspan font-size="9.4" dy="-0.2">***</tspan></text>
<text x="332.4" y="115.3" font-size="10" fill="#1a1a1a">R<tspan font-size="7.3" dy="-3.3">2</tspan><tspan dy="3.3">=0.03</tspan><tspan font-size="9.4" dy="-0.2">*</tspan></text>
<text x="429.4" y="155.79999999999998" font-size="10" fill="#1a1a1a">R<tspan font-size="7.3" dy="-3.3">2</tspan><tspan dy="3.3">=0.08</tspan><tspan font-size="9.4" dy="-0.2">*</tspan></text>
<text x="340.2" y="204.9" font-size="10" fill="#1a1a1a">R<tspan font-size="7.3" dy="-3.3">2</tspan><tspan dy="3.3">=0.3</tspan><tspan font-size="9.4" dy="-0.2">*</tspan></text>
<text x="428" y="205.0" font-size="10" fill="#1a1a1a">R<tspan font-size="7.3" dy="-3.3">2</tspan><tspan dy="3.3">=0.5</tspan><tspan font-size="9.4" dy="-0.2">***</tspan></text>
<path d="M564.70,80.90L569.90,86.10M564.70,86.10L569.90,80.90" stroke="#ababab" stroke-width="0.8"/>
<path d="M562.00,84.20L567.20,89.40M562.00,89.40L567.20,84.20" stroke="#ababab" stroke-width="0.8"/>
<path d="M564.20,85.10L569.40,90.30M564.20,90.30L569.40,85.10" stroke="#ababab" stroke-width="0.8"/>
<path d="M565.30,89.70L570.50,94.90M565.30,94.90L570.50,89.70" stroke="#ababab" stroke-width="0.8"/>
<path d="M571.00,92.20L576.20,97.40M571.00,97.40L576.20,92.20" stroke="#ababab" stroke-width="0.8"/>
<path d="M568.30,92.20L573.50,97.40M568.30,97.40L573.50,92.20" stroke="#ababab" stroke-width="0.8"/>
<path d="M560.10,94.50L565.30,99.70M560.10,99.70L565.30,94.50" stroke="#ababab" stroke-width="0.8"/>
<path d="M564.20,96.00L569.40,101.20M564.20,101.20L569.40,96.00" stroke="#ababab" stroke-width="0.8"/>
<path d="M554.70,108.30L559.90,113.50M554.70,113.50L559.90,108.30" stroke="#ababab" stroke-width="0.8"/>
<path d="M570.70,96.00L575.90,101.20M570.70,101.20L575.90,96.00" stroke="#ababab" stroke-width="0.8"/>
<path d="M576.30,84.70L581.50,89.90M576.30,89.90L581.50,84.70" stroke="#ababab" stroke-width="0.8"/>
<path d="M576.90,84.60L582.10,89.80M576.90,89.80L582.10,84.60" stroke="#ababab" stroke-width="0.8"/>
<path d="M593.40,79.60L598.60,84.80M593.40,84.80L598.60,79.60" stroke="#ababab" stroke-width="0.8"/>
<path d="M573.20,101.30L578.40,106.50M573.20,106.50L578.40,101.30" stroke="#ababab" stroke-width="0.8"/>
<path d="M574.00,105.80L579.20,111.00M574.00,111.00L579.20,105.80" stroke="#ababab" stroke-width="0.8"/>
<path d="M581.40,88.40L586.60,93.60M581.40,93.60L586.60,88.40" stroke="#ababab" stroke-width="0.8"/>
<path d="M583.00,87.30L588.20,92.50M583.00,92.50L588.20,87.30" stroke="#ababab" stroke-width="0.8"/>
<path d="M579.20,91.60L584.40,96.80M579.20,96.80L584.40,91.60" stroke="#ababab" stroke-width="0.8"/>
<path d="M584.60,92.20L589.80,97.40M584.60,97.40L589.80,92.20" stroke="#ababab" stroke-width="0.8"/>
<path d="M587.80,92.20L593.00,97.40M587.80,97.40L593.00,92.20" stroke="#ababab" stroke-width="0.8"/>
<path d="M588.90,89.50L594.10,94.70M588.90,94.70L594.10,89.50" stroke="#ababab" stroke-width="0.8"/>
<path d="M590.00,95.90L595.20,101.10M590.00,101.10L595.20,95.90" stroke="#ababab" stroke-width="0.8"/>
<path d="M573.30,95.40L578.50,100.60M573.30,100.60L578.50,95.40" stroke="#ababab" stroke-width="0.8"/>
<path d="M578.20,94.80L583.40,100.00M578.20,100.00L583.40,94.80" stroke="#ababab" stroke-width="0.8"/>
<path d="M570.60,96.40L575.80,101.60M570.60,101.60L575.80,96.40" stroke="#ababab" stroke-width="0.8"/>
<path d="M575.50,97.50L580.70,102.70M575.50,102.70L580.70,97.50" stroke="#ababab" stroke-width="0.8"/>
<path d="M581.40,97.50L586.60,102.70M581.40,102.70L586.60,97.50" stroke="#ababab" stroke-width="0.8"/>
<path d="M584.60,97.50L589.80,102.70M584.60,102.70L589.80,97.50" stroke="#ababab" stroke-width="0.8"/>
<path d="M577.60,100.20L582.80,105.40M577.60,105.40L582.80,100.20" stroke="#ababab" stroke-width="0.8"/>
<path d="M572.80,101.30L578.00,106.50M572.80,106.50L578.00,101.30" stroke="#ababab" stroke-width="0.8"/>
<path d="M580.30,101.80L585.50,107.00M580.30,107.00L585.50,101.80" stroke="#ababab" stroke-width="0.8"/>
<path d="M587.80,99.10L593.00,104.30M587.80,104.30L593.00,99.10" stroke="#ababab" stroke-width="0.8"/>
<path d="M591.60,97.50L596.80,102.70M591.60,102.70L596.80,97.50" stroke="#ababab" stroke-width="0.8"/>
<path d="M593.20,102.90L598.40,108.10M593.20,108.10L598.40,102.90" stroke="#ababab" stroke-width="0.8"/>
<path d="M584.60,105.10L589.80,110.30M584.60,110.30L589.80,105.10" stroke="#ababab" stroke-width="0.8"/>
<path d="M573.90,106.10L579.10,111.30M573.90,111.30L579.10,106.10" stroke="#ababab" stroke-width="0.8"/>
<path d="M578.20,106.70L583.40,111.90M578.20,111.90L583.40,106.70" stroke="#ababab" stroke-width="0.8"/>
<path d="M584.10,107.20L589.30,112.40M584.10,112.40L589.30,107.20" stroke="#ababab" stroke-width="0.8"/>
<path d="M593.20,105.60L598.40,110.80M593.20,110.80L598.40,105.60" stroke="#ababab" stroke-width="0.8"/>
<path d="M581.20,89.90L586.40,95.10M581.20,95.10L586.40,89.90" stroke="#ababab" stroke-width="0.8"/>
<path d="M588.20,92.10L593.40,97.30M588.20,97.30L593.40,92.10" stroke="#ababab" stroke-width="0.8"/>
<path d="M590.80,96.40L596.00,101.60M590.80,101.60L596.00,96.40" stroke="#ababab" stroke-width="0.8"/>
<path d="M583.90,103.90L589.10,109.10M583.90,109.10L589.10,103.90" stroke="#ababab" stroke-width="0.8"/>
<path d="M585.40,105.50L590.60,110.70M585.40,110.70L590.60,105.50" stroke="#ababab" stroke-width="0.8"/>
<path d="M592.40,101.20L597.60,106.40M592.40,106.40L597.60,101.20" stroke="#ababab" stroke-width="0.8"/>
<path d="M579.00,99.60L584.20,104.80M579.00,104.80L584.20,99.60" stroke="#ababab" stroke-width="0.8"/>
<path d="M589.80,98.50L595.00,103.70M589.80,103.70L595.00,98.50" stroke="#ababab" stroke-width="0.8"/>
<path d="M582.20,101.80L587.40,107.00M582.20,107.00L587.40,101.80" stroke="#ababab" stroke-width="0.8"/>
<path d="M586.40,94.40L591.60,99.60M586.40,99.60L591.60,94.40" stroke="#ababab" stroke-width="0.8"/>
<path d="M583.40,93.90L588.60,99.10M583.40,99.10L588.60,93.90" stroke="#ababab" stroke-width="0.8"/>
<path d="M580.40,95.40L585.60,100.60M580.40,100.60L585.60,95.40" stroke="#ababab" stroke-width="0.8"/>
<path d="M597.30,109.00L602.50,114.20M597.30,114.20L602.50,109.00" stroke="#ababab" stroke-width="0.8"/>
<path d="M604.90,109.40L610.10,114.60M604.90,114.60L610.10,109.40" stroke="#ababab" stroke-width="0.8"/>
<path d="M605.80,106.30L611.00,111.50M605.80,111.50L611.00,106.30" stroke="#ababab" stroke-width="0.8"/>
<path d="M600.60,110.40L605.80,115.60M600.60,115.60L605.80,110.40" stroke="#ababab" stroke-width="0.8"/>
<path d="M578.40,92.40L583.60,97.60M578.40,97.60L583.60,92.40" stroke="#ababab" stroke-width="0.8"/>
<path d="M580.90,90.30L586.10,95.50M580.90,95.50L586.10,90.30" stroke="#ababab" stroke-width="0.8"/>
<path d="M580.60,93.50L585.80,98.70M580.60,98.70L585.80,93.50" stroke="#ababab" stroke-width="0.8"/>
<path d="M576.30,93.80L581.50,99.00M576.30,99.00L581.50,93.80" stroke="#ababab" stroke-width="0.8"/>
<path d="M583.40,89.50L588.60,94.70M583.40,94.70L588.60,89.50" stroke="#ababab" stroke-width="0.8"/>
<path d="M587.70,92.40L592.90,97.60M587.70,97.60L592.90,92.40" stroke="#ababab" stroke-width="0.8"/>
<path d="M588.80,95.60L594.00,100.80M588.80,100.80L594.00,95.60" stroke="#ababab" stroke-width="0.8"/>
<path d="M587.00,94.60L592.20,99.80M587.00,99.80L592.20,94.60" stroke="#ababab" stroke-width="0.8"/>
<path d="M584.10,93.10L589.30,98.30M584.10,98.30L589.30,93.10" stroke="#ababab" stroke-width="0.8"/>
<path d="M582.70,96.00L587.90,101.20M582.70,101.20L587.90,96.00" stroke="#ababab" stroke-width="0.8"/>
<path d="M590.60,96.00L595.80,101.20M590.60,101.20L595.80,96.00" stroke="#ababab" stroke-width="0.8"/>
<path d="M592.40,96.70L597.60,101.90M592.40,101.90L597.60,96.70" stroke="#ababab" stroke-width="0.8"/>
<path d="M592.70,98.10L597.90,103.30M592.70,103.30L597.90,98.10" stroke="#ababab" stroke-width="0.8"/>
<path d="M589.90,98.90L595.10,104.10M589.90,104.10L595.10,98.90" stroke="#ababab" stroke-width="0.8"/>
<path d="M588.80,98.50L594.00,103.70M588.80,103.70L594.00,98.50" stroke="#ababab" stroke-width="0.8"/>
<path d="M594.20,99.20L599.40,104.40M594.20,104.40L599.40,99.20" stroke="#ababab" stroke-width="0.8"/>
<path d="M596.30,98.90L601.50,104.10M596.30,104.10L601.50,98.90" stroke="#ababab" stroke-width="0.8"/>
<path d="M577.70,99.60L582.90,104.80M577.70,104.80L582.90,99.60" stroke="#ababab" stroke-width="0.8"/>
<path d="M577.00,100.30L582.20,105.50M577.00,105.50L582.20,100.30" stroke="#ababab" stroke-width="0.8"/>
<path d="M579.80,100.30L585.00,105.50M579.80,105.50L585.00,100.30" stroke="#ababab" stroke-width="0.8"/>
<path d="M582.00,99.60L587.20,104.80M582.00,104.80L587.20,99.60" stroke="#ababab" stroke-width="0.8"/>
<path d="M575.50,101.70L580.70,106.90M575.50,106.90L580.70,101.70" stroke="#ababab" stroke-width="0.8"/>
<path d="M574.10,100.70L579.30,105.90M574.10,105.90L579.30,100.70" stroke="#ababab" stroke-width="0.8"/>
<path d="M580.60,102.40L585.80,107.60M580.60,107.60L585.80,102.40" stroke="#ababab" stroke-width="0.8"/>
<path d="M582.70,102.40L587.90,107.60M582.70,107.60L587.90,102.40" stroke="#ababab" stroke-width="0.8"/>
<path d="M585.90,101.70L591.10,106.90M585.90,106.90L591.10,101.70" stroke="#ababab" stroke-width="0.8"/>
<path d="M587.70,102.40L592.90,107.60M587.70,107.60L592.90,102.40" stroke="#ababab" stroke-width="0.8"/>
<path d="M589.90,101.70L595.10,106.90M589.90,106.90L595.10,101.70" stroke="#ababab" stroke-width="0.8"/>
<path d="M591.30,103.90L596.50,109.10M591.30,109.10L596.50,103.90" stroke="#ababab" stroke-width="0.8"/>
<path d="M584.50,104.60L589.70,109.80M584.50,109.80L589.70,104.60" stroke="#ababab" stroke-width="0.8"/>
<path d="M587.70,104.60L592.90,109.80M587.70,109.80L592.90,104.60" stroke="#ababab" stroke-width="0.8"/>
<path d="M574.10,105.00L579.30,110.20M574.10,110.20L579.30,105.00" stroke="#ababab" stroke-width="0.8"/>
<path d="M577.70,106.00L582.90,111.20M577.70,111.20L582.90,106.00" stroke="#ababab" stroke-width="0.8"/>
<path d="M584.10,106.40L589.30,111.60M584.10,111.60L589.30,106.40" stroke="#ababab" stroke-width="0.8"/>
<path d="M592.70,105.70L597.90,110.90M592.70,110.90L597.90,105.70" stroke="#ababab" stroke-width="0.8"/>
<path d="M593.10,103.50L598.30,108.70M593.10,108.70L598.30,103.50" stroke="#ababab" stroke-width="0.8"/>
<path d="M595.60,102.40L600.80,107.60M595.60,107.60L600.80,102.40" stroke="#ababab" stroke-width="0.8"/>
<circle cx="567.3" cy="83.5" r="1.65" fill="#ff4fa6"/>
<circle cx="564.6" cy="86.8" r="1.65" fill="#ff4fa6"/>
<circle cx="566.8" cy="87.7" r="1.65" fill="#ff4fa6"/>
<circle cx="567.9" cy="92.3" r="1.65" fill="#ff4fa6"/>
<circle cx="573.6" cy="94.8" r="1.65" fill="#ff4fa6"/>
<circle cx="570.9" cy="94.8" r="1.65" fill="#ff4fa6"/>
<circle cx="562.7" cy="97.1" r="1.65" fill="#ff4fa6"/>
<circle cx="566.8" cy="98.6" r="1.65" fill="#ff4fa6"/>
<circle cx="557.3" cy="110.9" r="1.65" fill="#ff4fa6"/>
<circle cx="573.3" cy="98.6" r="1.65" fill="#0b2d72"/>
<circle cx="578.9" cy="87.3" r="1.65" fill="#13a186"/>
<circle cx="579.5" cy="87.2" r="1.65" fill="#13a186"/>
<circle cx="596.0" cy="82.2" r="1.65" fill="#13a186"/>
<circle cx="575.8" cy="103.9" r="1.65" fill="#13a186"/>
<circle cx="576.6" cy="108.4" r="1.65" fill="#c2f43c"/>
<circle cx="584.0" cy="91.0" r="1.65" fill="#13a186"/>
<circle cx="585.6" cy="89.9" r="1.65" fill="#13a186"/>
<circle cx="581.8" cy="94.2" r="1.65" fill="#0b2d72"/>
<circle cx="587.2" cy="94.8" r="1.65" fill="#13a186"/>
<circle cx="590.4" cy="94.8" r="1.65" fill="#0b2d72"/>
<circle cx="591.5" cy="92.1" r="1.65" fill="#13a186"/>
<circle cx="592.6" cy="98.5" r="1.65" fill="#0b2d72"/>
<circle cx="575.9" cy="98.0" r="1.65" fill="#13a186"/>
<circle cx="580.8" cy="97.4" r="1.65" fill="#c2f43c"/>
<circle cx="573.2" cy="99.0" r="1.65" fill="#0b2d72"/>
<circle cx="578.1" cy="100.1" r="1.65" fill="#13a186"/>
<circle cx="584.0" cy="100.1" r="1.65" fill="#13a186"/>
<circle cx="587.2" cy="100.1" r="1.65" fill="#13a186"/>
<circle cx="580.2" cy="102.8" r="1.65" fill="#c2f43c"/>
<circle cx="575.4" cy="103.9" r="1.65" fill="#13a186"/>
<circle cx="582.9" cy="104.4" r="1.65" fill="#13a186"/>
<circle cx="590.4" cy="101.7" r="1.65" fill="#0b2d72"/>
<circle cx="594.2" cy="100.1" r="1.65" fill="#13a186"/>
<circle cx="595.8" cy="105.5" r="1.65" fill="#13a186"/>
<circle cx="587.2" cy="107.7" r="1.65" fill="#0b2d72"/>
<circle cx="576.5" cy="108.7" r="1.65" fill="#c2f43c"/>
<circle cx="580.8" cy="109.3" r="1.65" fill="#13a186"/>
<circle cx="586.7" cy="109.8" r="1.65" fill="#0b2d72"/>
<circle cx="595.8" cy="108.2" r="1.65" fill="#ff4fa6"/>
<circle cx="583.8" cy="92.5" r="1.65" fill="#0b2d72"/>
<circle cx="590.8" cy="94.7" r="1.65" fill="#0b2d72"/>
<circle cx="593.4" cy="99.0" r="1.65" fill="#0b2d72"/>
<circle cx="586.5" cy="106.5" r="1.65" fill="#0b2d72"/>
<circle cx="588.0" cy="108.1" r="1.65" fill="#0b2d72"/>
<circle cx="595.0" cy="103.8" r="1.65" fill="#0b2d72"/>
<circle cx="581.6" cy="102.2" r="1.65" fill="#c2f43c"/>
<circle cx="592.4" cy="101.1" r="1.65" fill="#c2f43c"/>
<circle cx="584.8" cy="104.4" r="1.65" fill="#c2f43c"/>
<circle cx="589.0" cy="97.0" r="1.65" fill="#13a186"/>
<circle cx="586.0" cy="96.5" r="1.65" fill="#c2f43c"/>
<circle cx="583.0" cy="98.0" r="1.65" fill="#13a186"/>
<circle cx="599.9" cy="111.6" r="1.65" fill="#0b2d72"/>
<circle cx="607.5" cy="112.0" r="1.65" fill="#0b2d72"/>
<circle cx="608.4" cy="108.9" r="1.65" fill="#0b2d72"/>
<circle cx="603.2" cy="113.0" r="1.65" fill="#0b2d72"/>
<circle cx="581.0" cy="95.0" r="1.65" fill="#0b2d72"/>
<circle cx="583.5" cy="92.9" r="1.65" fill="#0b2d72"/>
<circle cx="583.2" cy="96.1" r="1.65" fill="#c2f43c"/>
<circle cx="578.9" cy="96.4" r="1.65" fill="#13a186"/>
<circle cx="586.0" cy="92.1" r="1.65" fill="#13a186"/>
<circle cx="590.3" cy="95.0" r="1.65" fill="#0b2d72"/>
<circle cx="591.4" cy="98.2" r="1.65" fill="#0b2d72"/>
<circle cx="589.6" cy="97.2" r="1.65" fill="#0b2d72"/>
<circle cx="586.7" cy="95.7" r="1.65" fill="#13a186"/>
<circle cx="585.3" cy="98.6" r="1.65" fill="#13a186"/>
<circle cx="593.2" cy="98.6" r="1.65" fill="#13a186"/>
<circle cx="595.0" cy="99.3" r="1.65" fill="#0b2d72"/>
<circle cx="595.3" cy="100.7" r="1.65" fill="#c2f43c"/>
<circle cx="592.5" cy="101.5" r="1.65" fill="#13a186"/>
<circle cx="591.4" cy="101.1" r="1.65" fill="#c2f43c"/>
<circle cx="596.8" cy="101.8" r="1.65" fill="#13a186"/>
<circle cx="598.9" cy="101.5" r="1.65" fill="#ff4fa6"/>
<circle cx="580.3" cy="102.2" r="1.65" fill="#13a186"/>
<circle cx="579.6" cy="102.9" r="1.65" fill="#c2f43c"/>
<circle cx="582.4" cy="102.9" r="1.65" fill="#0b2d72"/>
<circle cx="584.6" cy="102.2" r="1.65" fill="#13a186"/>
<circle cx="578.1" cy="104.3" r="1.65" fill="#13a186"/>
<circle cx="576.7" cy="103.3" r="1.65" fill="#c2f43c"/>
<circle cx="583.2" cy="105.0" r="1.65" fill="#13a186"/>
<circle cx="585.3" cy="105.0" r="1.65" fill="#c2f43c"/>
<circle cx="588.5" cy="104.3" r="1.65" fill="#13a186"/>
<circle cx="590.3" cy="105.0" r="1.65" fill="#13a186"/>
<circle cx="592.5" cy="104.3" r="1.65" fill="#13a186"/>
<circle cx="593.9" cy="106.5" r="1.65" fill="#0b2d72"/>
<circle cx="587.1" cy="107.2" r="1.65" fill="#0b2d72"/>
<circle cx="590.3" cy="107.2" r="1.65" fill="#13a186"/>
<circle cx="576.7" cy="107.6" r="1.65" fill="#c2f43c"/>
<circle cx="580.3" cy="108.6" r="1.65" fill="#13a186"/>
<circle cx="586.7" cy="109.0" r="1.65" fill="#0b2d72"/>
<circle cx="595.3" cy="108.3" r="1.65" fill="#ff4fa6"/>
<circle cx="595.7" cy="106.1" r="1.65" fill="#0b2d72"/>
<circle cx="598.2" cy="105.0" r="1.65" fill="#13a186"/>
<circle cx="604.8" cy="112.5" r="2.5" fill="#b0b0b0"/>
<circle cx="604.8" cy="112.5" r="2.1" fill="#13a186"/>
<path d="M604.8,112.5L604.80,110.40A2.1,2.1 0 0 1 605.45,114.50Z" fill="#0b2d72"/>
<circle cx="601.5" cy="99.0" r="2.5" fill="#b0b0b0"/>
<circle cx="601.5" cy="99.0" r="2.1" fill="#ff4fa6"/>
<circle cx="611.1" cy="102.6" r="2.5" fill="#b0b0b0"/>
<circle cx="611.1" cy="102.6" r="2.1" fill="#0b2d72"/>
<path d="M611.1,102.6L611.10,100.50A2.1,2.1 0 0 1 611.75,104.60Z" fill="#ff4fa6"/>
<circle cx="604.4" cy="72.7" r="2.5" fill="#b0b0b0"/>
<circle cx="604.4" cy="72.7" r="2.1" fill="#ff4fa6"/>
<circle cx="606.7" cy="72.7" r="2.5" fill="#b0b0b0"/>
<circle cx="606.7" cy="72.7" r="2.1" fill="#ff4fa6"/>
<circle cx="605.0" cy="79.0" r="2.5" fill="#b0b0b0"/>
<circle cx="605.0" cy="79.0" r="2.1" fill="#ff4fa6"/>
<circle cx="600.8" cy="81.6" r="2.5" fill="#b0b0b0"/>
<circle cx="600.8" cy="81.6" r="2.1" fill="#ff4fa6"/>
<circle cx="606.5" cy="83.4" r="2.5" fill="#b0b0b0"/>
<circle cx="606.5" cy="83.4" r="2.1" fill="#ff4fa6"/>
<circle cx="608.5" cy="88.8" r="2.5" fill="#b0b0b0"/>
<circle cx="608.5" cy="88.8" r="2.1" fill="#ff4fa6"/>
<circle cx="609.1" cy="93.3" r="2.5" fill="#b0b0b0"/>
<circle cx="609.1" cy="93.3" r="2.1" fill="#ff4fa6"/>
<circle cx="614.8" cy="87.0" r="2.5" fill="#b0b0b0"/>
<circle cx="614.8" cy="87.0" r="2.1" fill="#ff4fa6"/>
<circle cx="610.3" cy="75.8" r="2.5" fill="#b0b0b0"/>
<circle cx="610.3" cy="75.8" r="2.1" fill="#13a186"/>
<circle cx="625.5" cy="58.2" r="2.5" fill="#b0b0b0"/>
<circle cx="625.5" cy="58.2" r="2.1" fill="#0b2d72"/>
<circle cx="628.4" cy="59.6" r="2.5" fill="#b0b0b0"/>
<circle cx="628.4" cy="59.6" r="2.1" fill="#13a186"/>
<circle cx="632.7" cy="61.1" r="2.5" fill="#b0b0b0"/>
<circle cx="632.7" cy="61.1" r="2.1" fill="#13a186"/>
<circle cx="638.0" cy="59.0" r="2.5" fill="#b0b0b0"/>
<circle cx="638.0" cy="59.0" r="2.1" fill="#13a186"/>
<path d="M638.0,59.0L638.00,56.90A2.1,2.1 0 0 1 638.65,61.00Z" fill="#0b2d72"/>
<circle cx="624.7" cy="65.1" r="2.5" fill="#b0b0b0"/>
<circle cx="624.7" cy="65.1" r="2.1" fill="#13a186"/>
<path d="M624.7,65.1L624.70,63.00A2.1,2.1 0 0 1 625.35,67.10Z" fill="#c2f43c"/>
<circle cx="631.3" cy="63.4" r="2.5" fill="#b0b0b0"/>
<circle cx="631.3" cy="63.4" r="2.1" fill="#c2f43c"/>
<circle cx="633.7" cy="64.4" r="2.5" fill="#b0b0b0"/>
<circle cx="633.7" cy="64.4" r="2.1" fill="#13a186"/>
<circle cx="632.7" cy="66.8" r="2.5" fill="#b0b0b0"/>
<circle cx="632.7" cy="66.8" r="2.1" fill="#c2f43c"/>
<circle cx="637.0" cy="66.2" r="2.5" fill="#b0b0b0"/>
<circle cx="637.0" cy="66.2" r="2.1" fill="#13a186"/>
<circle cx="628.7" cy="70.5" r="2.5" fill="#b0b0b0"/>
<circle cx="628.7" cy="70.5" r="2.1" fill="#13a186"/>
<circle cx="629.4" cy="73.0" r="2.5" fill="#b0b0b0"/>
<circle cx="629.4" cy="73.0" r="2.1" fill="#13a186"/>
<circle cx="622.2" cy="74.4" r="2.5" fill="#b0b0b0"/>
<circle cx="622.2" cy="74.4" r="2.1" fill="#0b2d72"/>
<circle cx="626.5" cy="75.4" r="2.5" fill="#b0b0b0"/>
<circle cx="626.5" cy="75.4" r="2.1" fill="#13a186"/>
<circle cx="630.8" cy="75.1" r="2.5" fill="#b0b0b0"/>
<circle cx="630.8" cy="75.1" r="2.1" fill="#c2f43c"/>
<circle cx="635.6" cy="73.7" r="2.5" fill="#b0b0b0"/>
<circle cx="635.6" cy="73.7" r="2.1" fill="#13a186"/>
<circle cx="638.0" cy="70.8" r="2.5" fill="#b0b0b0"/>
<circle cx="638.0" cy="70.8" r="2.1" fill="#13a186"/>
<circle cx="620.8" cy="78.7" r="2.5" fill="#b0b0b0"/>
<circle cx="620.8" cy="78.7" r="2.1" fill="#13a186"/>
<circle cx="620.1" cy="79.1" r="2.5" fill="#b0b0b0"/>
<circle cx="620.1" cy="79.1" r="2.1" fill="#c2f43c"/>
<circle cx="625.1" cy="79.4" r="2.5" fill="#b0b0b0"/>
<circle cx="625.1" cy="79.4" r="2.1" fill="#0b2d72"/>
<circle cx="630.1" cy="79.4" r="2.5" fill="#b0b0b0"/>
<circle cx="630.1" cy="79.4" r="2.1" fill="#13a186"/>
<circle cx="633.3" cy="80.1" r="2.5" fill="#b0b0b0"/>
<circle cx="633.3" cy="80.1" r="2.1" fill="#13a186"/>
<circle cx="635.1" cy="82.0" r="2.5" fill="#b0b0b0"/>
<circle cx="635.1" cy="82.0" r="2.1" fill="#0b2d72"/>
<circle cx="622.9" cy="82.3" r="2.5" fill="#b0b0b0"/>
<circle cx="622.9" cy="82.3" r="2.1" fill="#13a186"/>
<circle cx="610.7" cy="76.4" r="2.5" fill="#b0b0b0"/>
<circle cx="610.7" cy="76.4" r="2.1" fill="#13a186"/>
<circle cx="620.5" cy="78.6" r="2.5" fill="#b0b0b0"/>
<circle cx="620.5" cy="78.6" r="2.1" fill="#c2f43c"/>
<circle cx="625.1" cy="78.6" r="2.5" fill="#b0b0b0"/>
<circle cx="625.1" cy="78.6" r="2.1" fill="#13a186"/>
<circle cx="630.1" cy="77.9" r="2.5" fill="#b0b0b0"/>
<circle cx="630.1" cy="77.9" r="2.1" fill="#13a186"/>
<circle cx="633.0" cy="80.7" r="2.5" fill="#b0b0b0"/>
<circle cx="633.0" cy="80.7" r="2.1" fill="#13a186"/>
<circle cx="624.4" cy="83.6" r="2.5" fill="#b0b0b0"/>
<circle cx="624.4" cy="83.6" r="2.1" fill="#0b2d72"/>
<circle cx="628.2" cy="85.0" r="2.5" fill="#b0b0b0"/>
<circle cx="628.2" cy="85.0" r="2.1" fill="#c2f43c"/>
<circle cx="630.8" cy="87.6" r="2.5" fill="#b0b0b0"/>
<circle cx="630.8" cy="87.6" r="2.1" fill="#13a186"/>
<circle cx="634.4" cy="86.5" r="2.5" fill="#b0b0b0"/>
<circle cx="634.4" cy="86.5" r="2.1" fill="#13a186"/>
<circle cx="637.7" cy="88.6" r="2.5" fill="#b0b0b0"/>
<circle cx="637.7" cy="88.6" r="2.1" fill="#c2f43c"/>
<path d="M637.7,88.6L637.70,86.50A2.1,2.1 0 0 1 638.35,90.60Z" fill="#13a186"/>
<circle cx="633.7" cy="90.5" r="2.5" fill="#b0b0b0"/>
<circle cx="633.7" cy="90.5" r="2.1" fill="#13a186"/>
<circle cx="622.5" cy="87.2" r="2.5" fill="#b0b0b0"/>
<circle cx="622.5" cy="87.2" r="2.1" fill="#13a186"/>
<circle cx="625.1" cy="89.3" r="2.5" fill="#b0b0b0"/>
<circle cx="625.1" cy="89.3" r="2.1" fill="#13a186"/>
<circle cx="606.4" cy="84.3" r="2.5" fill="#b0b0b0"/>
<circle cx="606.4" cy="84.3" r="2.1" fill="#ff4fa6"/>
<circle cx="614.3" cy="86.5" r="2.5" fill="#b0b0b0"/>
<circle cx="614.3" cy="86.5" r="2.1" fill="#ff4fa6"/>
<circle cx="612.2" cy="86.2" r="2.5" fill="#b0b0b0"/>
<circle cx="612.2" cy="86.2" r="2.1" fill="#0b2d72"/>
<circle cx="607.9" cy="90.1" r="2.5" fill="#b0b0b0"/>
<circle cx="607.9" cy="90.1" r="2.1" fill="#ff4fa6"/>
<circle cx="612.2" cy="91.5" r="2.5" fill="#b0b0b0"/>
<circle cx="612.2" cy="91.5" r="2.1" fill="#13a186"/>
<path d="M612.2,91.5L612.20,89.40A2.1,2.1 0 0 1 612.85,93.50Z" fill="#c2f43c"/>
<circle cx="615.3" cy="90.5" r="2.5" fill="#b0b0b0"/>
<circle cx="615.3" cy="90.5" r="2.1" fill="#13a186"/>
<circle cx="609.6" cy="93.4" r="2.5" fill="#b0b0b0"/>
<circle cx="609.6" cy="93.4" r="2.1" fill="#ff4fa6"/>
<circle cx="616.5" cy="95.8" r="2.5" fill="#b0b0b0"/>
<circle cx="616.5" cy="95.8" r="2.1" fill="#13a186"/>
<circle cx="619.3" cy="92.9" r="2.5" fill="#b0b0b0"/>
<circle cx="619.3" cy="92.9" r="2.1" fill="#0b2d72"/>
<circle cx="622.2" cy="92.5" r="2.5" fill="#b0b0b0"/>
<circle cx="622.2" cy="92.5" r="2.1" fill="#13a186"/>
<circle cx="627.2" cy="95.1" r="2.5" fill="#b0b0b0"/>
<circle cx="627.2" cy="95.1" r="2.1" fill="#0b2d72"/>
<circle cx="626.5" cy="96.5" r="2.5" fill="#b0b0b0"/>
<circle cx="626.5" cy="96.5" r="2.1" fill="#0b2d72"/>
<circle cx="618.6" cy="98.7" r="2.5" fill="#b0b0b0"/>
<circle cx="618.6" cy="98.7" r="2.1" fill="#ff4fa6"/>
<circle cx="619.6" cy="101.5" r="2.5" fill="#b0b0b0"/>
<circle cx="619.6" cy="101.5" r="2.1" fill="#13a186"/>
<circle cx="632.0" cy="105.4" r="2.5" fill="#b0b0b0"/>
<circle cx="632.0" cy="105.4" r="2.1" fill="#13a186"/>
<circle cx="646.6" cy="90.5" r="2.5" fill="#b0b0b0"/>
<circle cx="646.6" cy="90.5" r="2.1" fill="#13a186"/>
<path d="M646.6,90.5L646.60,88.40A2.1,2.1 0 0 1 647.25,92.50Z" fill="#0b2d72"/>
<circle cx="638.6" cy="58.6" r="2.5" fill="#b0b0b0"/>
<circle cx="638.6" cy="58.6" r="2.1" fill="#13a186"/>
<path d="M638.6,58.6L638.60,56.50A2.1,2.1 0 0 1 639.25,60.60Z" fill="#c2f43c"/>
<circle cx="636.4" cy="63.7" r="2.5" fill="#b0b0b0"/>
<circle cx="636.4" cy="63.7" r="2.1" fill="#13a186"/>
<circle cx="638.2" cy="65.8" r="2.5" fill="#b0b0b0"/>
<circle cx="638.2" cy="65.8" r="2.1" fill="#13a186"/>
<path d="M638.2,65.8L638.20,63.70A2.1,2.1 0 0 1 638.85,67.80Z" fill="#0b2d72"/>
<circle cx="650.5" cy="61.8" r="2.5" fill="#b0b0b0"/>
<circle cx="650.5" cy="61.8" r="2.1" fill="#0b2d72"/>
<path d="M650.5,61.8L650.50,59.70A2.1,2.1 0 0 1 651.15,63.80Z" fill="#13a186"/>
<circle cx="646.5" cy="66.5" r="2.5" fill="#b0b0b0"/>
<circle cx="646.5" cy="66.5" r="2.1" fill="#13a186"/>
<path d="M646.5,66.5L646.50,64.40A2.1,2.1 0 0 1 647.15,68.50Z" fill="#0b2d72"/>
<circle cx="661.1" cy="65.1" r="2.5" fill="#b0b0b0"/>
<circle cx="661.1" cy="65.1" r="2.1" fill="#0b2d72"/>
<circle cx="638.6" cy="69.8" r="2.5" fill="#b0b0b0"/>
<circle cx="638.6" cy="69.8" r="2.1" fill="#ff4fa6"/>
<path d="M638.6,69.8L638.60,67.70A2.1,2.1 0 0 1 639.25,71.80Z" fill="#13a186"/>
<circle cx="657.2" cy="71.5" r="2.5" fill="#b0b0b0"/>
<circle cx="657.2" cy="71.5" r="2.1" fill="#0b2d72"/>
<circle cx="659.7" cy="72.3" r="2.5" fill="#b0b0b0"/>
<circle cx="659.7" cy="72.3" r="2.1" fill="#0b2d72"/>
<circle cx="637.9" cy="74.4" r="2.5" fill="#b0b0b0"/>
<circle cx="637.9" cy="74.4" r="2.1" fill="#0b2d72"/>
<path d="M637.9,74.4L637.90,72.30A2.1,2.1 0 0 1 638.55,76.40Z" fill="#13a186"/>
<circle cx="658.7" cy="77.6" r="2.5" fill="#b0b0b0"/>
<circle cx="658.7" cy="77.6" r="2.1" fill="#0b2d72"/>
<path d="M658.7,77.6L658.70,75.50A2.1,2.1 0 0 1 659.35,79.60Z" fill="#13a186"/>
<circle cx="665.8" cy="77.3" r="2.5" fill="#b0b0b0"/>
<circle cx="665.8" cy="77.3" r="2.1" fill="#0b2d72"/>
<circle cx="636.4" cy="77.6" r="2.5" fill="#b0b0b0"/>
<circle cx="636.4" cy="77.6" r="2.1" fill="#c2f43c"/>
<circle cx="656.5" cy="85.8" r="2.5" fill="#b0b0b0"/>
<circle cx="656.5" cy="85.8" r="2.1" fill="#0b2d72"/>
<path d="M656.5,85.8L656.50,83.70A2.1,2.1 0 0 1 657.15,87.80Z" fill="#13a186"/>
<circle cx="637.2" cy="88.6" r="2.5" fill="#b0b0b0"/>
<circle cx="637.2" cy="88.6" r="2.1" fill="#13a186"/>
<path d="M637.2,88.6L637.20,86.50A2.1,2.1 0 0 1 637.85,90.60Z" fill="#c2f43c"/>
<line x1="557.6" y1="92.5" x2="607.5" y2="106.8" stroke="#bebebe" stroke-width="1.3"/>
<line x1="600" y1="88" x2="666" y2="66.5" stroke="#bebebe" stroke-width="1.3"/>
<path d="M567.70,196.00L572.90,201.20M567.70,201.20L572.90,196.00" stroke="#ababab" stroke-width="0.8"/>
<path d="M574.20,208.40L579.40,213.60M574.20,213.60L579.40,208.40" stroke="#ababab" stroke-width="0.8"/>
<path d="M555.90,238.50L561.10,243.70M555.90,243.70L561.10,238.50" stroke="#ababab" stroke-width="0.8"/>
<path d="M574.60,238.90L579.80,244.10M574.60,244.10L579.80,238.90" stroke="#ababab" stroke-width="0.8"/>
<path d="M573.80,208.20L579.00,213.40M573.80,213.40L579.00,208.20" stroke="#ababab" stroke-width="0.8"/>
<path d="M562.50,209.90L567.70,215.10M562.50,215.10L567.70,209.90" stroke="#ababab" stroke-width="0.8"/>
<path d="M564.70,209.30L569.90,214.50M564.70,214.50L569.90,209.30" stroke="#ababab" stroke-width="0.8"/>
<path d="M566.30,211.50L571.50,216.70M566.30,216.70L571.50,211.50" stroke="#ababab" stroke-width="0.8"/>
<path d="M560.40,213.60L565.60,218.80M560.40,218.80L565.60,213.60" stroke="#ababab" stroke-width="0.8"/>
<path d="M564.20,214.20L569.40,219.40M564.20,219.40L569.40,214.20" stroke="#ababab" stroke-width="0.8"/>
<path d="M567.40,214.20L572.60,219.40M567.40,219.40L572.60,214.20" stroke="#ababab" stroke-width="0.8"/>
<path d="M571.70,214.70L576.90,219.90M571.70,219.90L576.90,214.70" stroke="#ababab" stroke-width="0.8"/>
<path d="M559.90,216.80L565.10,222.00M559.90,222.00L565.10,216.80" stroke="#ababab" stroke-width="0.8"/>
<path d="M563.10,217.40L568.30,222.60M563.10,222.60L568.30,217.40" stroke="#ababab" stroke-width="0.8"/>
<path d="M566.30,217.40L571.50,222.60M566.30,222.60L571.50,217.40" stroke="#ababab" stroke-width="0.8"/>
<path d="M570.60,217.40L575.80,222.60M570.60,222.60L575.80,217.40" stroke="#ababab" stroke-width="0.8"/>
<path d="M574.40,217.40L579.60,222.60M574.40,222.60L579.60,217.40" stroke="#ababab" stroke-width="0.8"/>
<path d="M579.20,218.50L584.40,223.70M579.20,223.70L584.40,218.50" stroke="#ababab" stroke-width="0.8"/>
<path d="M563.60,220.10L568.80,225.30M563.60,225.30L568.80,220.10" stroke="#ababab" stroke-width="0.8"/>
<path d="M568.50,219.50L573.70,224.70M568.50,224.70L573.70,219.50" stroke="#ababab" stroke-width="0.8"/>
<path d="M572.20,220.60L577.40,225.80M572.20,225.80L577.40,220.60" stroke="#ababab" stroke-width="0.8"/>
<path d="M576.50,221.10L581.70,226.30M576.50,226.30L581.70,221.10" stroke="#ababab" stroke-width="0.8"/>
<path d="M557.70,222.20L562.90,227.40M557.70,227.40L562.90,222.20" stroke="#ababab" stroke-width="0.8"/>
<path d="M560.90,223.80L566.10,229.00M560.90,229.00L566.10,223.80" stroke="#ababab" stroke-width="0.8"/>
<path d="M563.60,224.90L568.80,230.10M563.60,230.10L568.80,224.90" stroke="#ababab" stroke-width="0.8"/>
<path d="M566.30,224.40L571.50,229.60M566.30,229.60L571.50,224.40" stroke="#ababab" stroke-width="0.8"/>
<path d="M570.10,224.40L575.30,229.60M570.10,229.60L575.30,224.40" stroke="#ababab" stroke-width="0.8"/>
<path d="M573.80,224.40L579.00,229.60M573.80,229.60L579.00,224.40" stroke="#ababab" stroke-width="0.8"/>
<path d="M577.60,223.30L582.80,228.50M577.60,228.50L582.80,223.30" stroke="#ababab" stroke-width="0.8"/>
<path d="M557.20,226.00L562.40,231.20M557.20,231.20L562.40,226.00" stroke="#ababab" stroke-width="0.8"/>
<path d="M556.60,228.10L561.80,233.30M556.60,233.30L561.80,228.10" stroke="#ababab" stroke-width="0.8"/>
<path d="M562.00,227.10L567.20,232.30M562.00,232.30L567.20,227.10" stroke="#ababab" stroke-width="0.8"/>
<path d="M565.20,227.10L570.40,232.30M565.20,232.30L570.40,227.10" stroke="#ababab" stroke-width="0.8"/>
<path d="M568.50,227.60L573.70,232.80M568.50,232.80L573.70,227.60" stroke="#ababab" stroke-width="0.8"/>
<path d="M571.70,227.60L576.90,232.80M571.70,232.80L576.90,227.60" stroke="#ababab" stroke-width="0.8"/>
<path d="M574.90,228.10L580.10,233.30M574.90,233.30L580.10,228.10" stroke="#ababab" stroke-width="0.8"/>
<path d="M579.20,229.20L584.40,234.40M579.20,234.40L584.40,229.20" stroke="#ababab" stroke-width="0.8"/>
<path d="M564.20,231.40L569.40,236.60M564.20,236.60L569.40,231.40" stroke="#ababab" stroke-width="0.8"/>
<path d="M567.40,231.10L572.60,236.30M567.40,236.30L572.60,231.10" stroke="#ababab" stroke-width="0.8"/>
<path d="M572.80,231.60L578.00,236.80M572.80,236.80L578.00,231.60" stroke="#ababab" stroke-width="0.8"/>
<path d="M579.90,218.60L585.10,223.80M579.90,223.80L585.10,218.60" stroke="#ababab" stroke-width="0.8"/>
<path d="M583.60,225.80L588.80,231.00M583.60,231.00L588.80,225.80" stroke="#ababab" stroke-width="0.8"/>
<path d="M578.90,229.60L584.10,234.80M578.90,234.80L584.10,229.60" stroke="#ababab" stroke-width="0.8"/>
<path d="M581.30,233.20L586.50,238.40M581.30,238.40L586.50,233.20" stroke="#ababab" stroke-width="0.8"/>
<path d="M586.00,232.50L591.20,237.70M586.00,237.70L591.20,232.50" stroke="#ababab" stroke-width="0.8"/>
<path d="M589.90,233.90L595.10,239.10M589.90,239.10L595.10,233.90" stroke="#ababab" stroke-width="0.8"/>
<path d="M586.70,236.80L591.90,242.00M586.70,242.00L591.90,236.80" stroke="#ababab" stroke-width="0.8"/>
<path d="M575.00,238.20L580.20,243.40M575.00,243.40L580.20,238.20" stroke="#ababab" stroke-width="0.8"/>
<path d="M576.00,241.10L581.20,246.30M576.00,246.30L581.20,241.10" stroke="#ababab" stroke-width="0.8"/>
<path d="M566.70,211.10L571.90,216.30M566.70,216.30L571.90,211.10" stroke="#ababab" stroke-width="0.8"/>
<path d="M568.80,214.30L574.00,219.50M568.80,219.50L574.00,214.30" stroke="#ababab" stroke-width="0.8"/>
<path d="M564.50,215.40L569.70,220.60M564.50,220.60L569.70,215.40" stroke="#ababab" stroke-width="0.8"/>
<path d="M572.10,217.50L577.30,222.70M572.10,222.70L577.30,217.50" stroke="#ababab" stroke-width="0.8"/>
<path d="M568.80,219.70L574.00,224.90M568.80,224.90L574.00,219.70" stroke="#ababab" stroke-width="0.8"/>
<path d="M562.40,220.70L567.60,225.90M562.40,225.90L567.60,220.70" stroke="#ababab" stroke-width="0.8"/>
<path d="M561.30,224.00L566.50,229.20M561.30,229.20L566.50,224.00" stroke="#ababab" stroke-width="0.8"/>
<path d="M564.50,225.00L569.70,230.20M564.50,230.20L569.70,225.00" stroke="#ababab" stroke-width="0.8"/>
<path d="M568.80,226.10L574.00,231.30M568.80,231.30L574.00,226.10" stroke="#ababab" stroke-width="0.8"/>
<path d="M572.10,222.90L577.30,228.10M572.10,228.10L577.30,222.90" stroke="#ababab" stroke-width="0.8"/>
<path d="M574.20,226.10L579.40,231.30M574.20,231.30L579.40,226.10" stroke="#ababab" stroke-width="0.8"/>
<path d="M573.10,221.80L578.30,227.00M573.10,227.00L578.30,221.80" stroke="#ababab" stroke-width="0.8"/>
<path d="M576.40,228.30L581.60,233.50M576.40,233.50L581.60,228.30" stroke="#ababab" stroke-width="0.8"/>
<path d="M565.60,230.40L570.80,235.60M565.60,235.60L570.80,230.40" stroke="#ababab" stroke-width="0.8"/>
<path d="M569.90,232.60L575.10,237.80M569.90,237.80L575.10,232.60" stroke="#ababab" stroke-width="0.8"/>
<path d="M579.60,230.40L584.80,235.60M579.60,235.60L584.80,230.40" stroke="#ababab" stroke-width="0.8"/>
<path d="M580.70,232.60L585.90,237.80M580.70,237.80L585.90,232.60" stroke="#ababab" stroke-width="0.8"/>
<path d="M586.00,232.60L591.20,237.80M586.00,237.80L591.20,232.60" stroke="#ababab" stroke-width="0.8"/>
<path d="M589.30,233.60L594.50,238.80M589.30,238.80L594.50,233.60" stroke="#ababab" stroke-width="0.8"/>
<path d="M587.10,235.80L592.30,241.00M587.10,241.00L592.30,235.80" stroke="#ababab" stroke-width="0.8"/>
<path d="M561.30,216.40L566.50,221.60M561.30,221.60L566.50,216.40" stroke="#ababab" stroke-width="0.8"/>
<path d="M563.50,212.10L568.70,217.30M563.50,217.30L568.70,212.10" stroke="#ababab" stroke-width="0.8"/>
<path d="M564.50,208.90L569.70,214.10M564.50,214.10L569.70,208.90" stroke="#ababab" stroke-width="0.8"/>
<path d="M560.20,212.10L565.40,217.30M560.20,217.30L565.40,212.10" stroke="#ababab" stroke-width="0.8"/>
<path d="M567.40,221.40L572.60,226.60M567.40,226.60L572.60,221.40" stroke="#ababab" stroke-width="0.8"/>
<path d="M565.40,218.40L570.60,223.60M565.40,223.60L570.60,218.40" stroke="#ababab" stroke-width="0.8"/>
<circle cx="570.3" cy="198.6" r="1.65" fill="#13a186"/>
<circle cx="576.8" cy="211.0" r="1.65" fill="#0b2d72"/>
<circle cx="558.5" cy="241.1" r="1.65" fill="#ff4fa6"/>
<circle cx="577.2" cy="241.5" r="1.65" fill="#13a186"/>
<path d="M577.2,241.5L577.20,239.85A1.65,1.65 0 0 1 577.71,243.07Z" fill="#0b2d72"/>
<circle cx="576.4" cy="210.8" r="1.65" fill="#13a186"/>
<circle cx="565.1" cy="212.5" r="1.65" fill="#ff4fa6"/>
<circle cx="567.3" cy="211.9" r="1.65" fill="#ff4fa6"/>
<circle cx="568.9" cy="214.1" r="1.65" fill="#0b2d72"/>
<circle cx="563.0" cy="216.2" r="1.65" fill="#13a186"/>
<circle cx="566.8" cy="216.8" r="1.65" fill="#0b2d72"/>
<circle cx="570.0" cy="216.8" r="1.65" fill="#0b2d72"/>
<circle cx="574.3" cy="217.3" r="1.65" fill="#13a186"/>
<circle cx="562.5" cy="219.4" r="1.65" fill="#ff4fa6"/>
<circle cx="565.7" cy="220.0" r="1.65" fill="#13a186"/>
<circle cx="568.9" cy="220.0" r="1.65" fill="#13a186"/>
<circle cx="573.2" cy="220.0" r="1.65" fill="#13a186"/>
<circle cx="577.0" cy="220.0" r="1.65" fill="#0b2d72"/>
<circle cx="581.8" cy="221.1" r="1.65" fill="#0b2d72"/>
<circle cx="566.2" cy="222.7" r="1.65" fill="#ff4fa6"/>
<circle cx="571.1" cy="222.1" r="1.65" fill="#13a186"/>
<circle cx="574.8" cy="223.2" r="1.65" fill="#c2f43c"/>
<circle cx="579.1" cy="223.7" r="1.65" fill="#0b2d72"/>
<circle cx="560.3" cy="224.8" r="1.65" fill="#ff4fa6"/>
<circle cx="563.5" cy="226.4" r="1.65" fill="#13a186"/>
<circle cx="566.2" cy="227.5" r="1.65" fill="#c2f43c"/>
<circle cx="568.9" cy="227.0" r="1.65" fill="#13a186"/>
<circle cx="572.7" cy="227.0" r="1.65" fill="#c2f43c"/>
<circle cx="576.4" cy="227.0" r="1.65" fill="#0b2d72"/>
<circle cx="580.2" cy="225.9" r="1.65" fill="#13a186"/>
<circle cx="559.8" cy="228.6" r="1.65" fill="#ff4fa6"/>
<circle cx="559.2" cy="230.7" r="1.65" fill="#ff4fa6"/>
<circle cx="564.6" cy="229.7" r="1.65" fill="#13a186"/>
<circle cx="567.8" cy="229.7" r="1.65" fill="#c2f43c"/>
<circle cx="571.1" cy="230.2" r="1.65" fill="#13a186"/>
<circle cx="574.3" cy="230.2" r="1.65" fill="#0b2d72"/>
<circle cx="577.5" cy="230.7" r="1.65" fill="#13a186"/>
<circle cx="581.8" cy="231.8" r="1.65" fill="#13a186"/>
<circle cx="566.8" cy="234.0" r="1.65" fill="#c2f43c"/>
<circle cx="570.0" cy="233.7" r="1.65" fill="#13a186"/>
<circle cx="575.4" cy="234.2" r="1.65" fill="#13a186"/>
<circle cx="582.5" cy="221.2" r="1.65" fill="#ff4fa6"/>
<circle cx="586.2" cy="228.4" r="1.65" fill="#ff4fa6"/>
<circle cx="581.5" cy="232.2" r="1.65" fill="#0b2d72"/>
<circle cx="583.9" cy="235.8" r="1.65" fill="#0b2d72"/>
<circle cx="588.6" cy="235.1" r="1.65" fill="#0b2d72"/>
<circle cx="592.5" cy="236.5" r="1.65" fill="#0b2d72"/>
<circle cx="589.3" cy="239.4" r="1.65" fill="#0b2d72"/>
<circle cx="577.6" cy="240.8" r="1.65" fill="#13a186"/>
<circle cx="578.6" cy="243.7" r="1.65" fill="#c2f43c"/>
<circle cx="569.3" cy="213.7" r="1.65" fill="#0b2d72"/>
<circle cx="571.4" cy="216.9" r="1.65" fill="#0b2d72"/>
<circle cx="567.1" cy="218.0" r="1.65" fill="#13a186"/>
<circle cx="574.7" cy="220.1" r="1.65" fill="#0b2d72"/>
<circle cx="571.4" cy="222.3" r="1.65" fill="#13a186"/>
<circle cx="565.0" cy="223.3" r="1.65" fill="#13a186"/>
<circle cx="563.9" cy="226.6" r="1.65" fill="#c2f43c"/>
<circle cx="567.1" cy="227.6" r="1.65" fill="#c2f43c"/>
<circle cx="571.4" cy="228.7" r="1.65" fill="#13a186"/>
<circle cx="574.7" cy="225.5" r="1.65" fill="#0b2d72"/>
<circle cx="576.8" cy="228.7" r="1.65" fill="#13a186"/>
<circle cx="575.7" cy="224.4" r="1.65" fill="#c2f43c"/>
<circle cx="579.0" cy="230.9" r="1.65" fill="#0b2d72"/>
<circle cx="568.2" cy="233.0" r="1.65" fill="#13a186"/>
<circle cx="572.5" cy="235.2" r="1.65" fill="#13a186"/>
<circle cx="582.2" cy="233.0" r="1.65" fill="#0b2d72"/>
<circle cx="583.3" cy="235.2" r="1.65" fill="#13a186"/>
<circle cx="588.6" cy="235.2" r="1.65" fill="#0b2d72"/>
<circle cx="591.9" cy="236.2" r="1.65" fill="#0b2d72"/>
<circle cx="589.7" cy="238.4" r="1.65" fill="#0b2d72"/>
<circle cx="563.9" cy="219.0" r="1.65" fill="#13a186"/>
<circle cx="566.1" cy="214.7" r="1.65" fill="#0b2d72"/>
<circle cx="567.1" cy="211.5" r="1.65" fill="#ff4fa6"/>
<circle cx="562.8" cy="214.7" r="1.65" fill="#13a186"/>
<circle cx="570.0" cy="224.0" r="1.65" fill="#13a186"/>
<circle cx="568.0" cy="221.0" r="1.65" fill="#0b2d72"/>
<circle cx="604.4" cy="243.3" r="2.5" fill="#b0b0b0"/>
<circle cx="604.4" cy="243.3" r="2.1" fill="#ff4fa6"/>
<circle cx="629.7" cy="152.5" r="2.5" fill="#b0b0b0"/>
<circle cx="629.7" cy="152.5" r="2.1" fill="#13a186"/>
<path d="M629.7,152.5L629.70,150.40A2.1,2.1 0 0 1 630.35,154.50Z" fill="#0b2d72"/>
<circle cx="622.5" cy="169.2" r="2.5" fill="#b0b0b0"/>
<circle cx="622.5" cy="169.2" r="2.1" fill="#c2f43c"/>
<path d="M622.5,169.2L622.50,167.10A2.1,2.1 0 0 1 623.15,171.20Z" fill="#13a186"/>
<circle cx="624.0" cy="173.5" r="2.5" fill="#b0b0b0"/>
<circle cx="624.0" cy="173.5" r="2.1" fill="#c2f43c"/>
<path d="M624.0,173.5L624.00,171.40A2.1,2.1 0 0 1 624.65,175.50Z" fill="#13a186"/>
<circle cx="608.6" cy="176.4" r="2.5" fill="#b0b0b0"/>
<circle cx="608.6" cy="176.4" r="2.1" fill="#0b2d72"/>
<circle cx="627.8" cy="182.6" r="2.5" fill="#b0b0b0"/>
<circle cx="627.8" cy="182.6" r="2.1" fill="#13a186"/>
<circle cx="646.3" cy="180.4" r="2.5" fill="#b0b0b0"/>
<circle cx="646.3" cy="180.4" r="2.1" fill="#13a186"/>
<path d="M646.3,180.4L646.30,178.30A2.1,2.1 0 0 1 648.30,181.05Z" fill="#c2f43c"/>
<path d="M646.3,180.4L648.30,181.05A2.1,2.1 0 0 1 646.30,182.50Z" fill="#0b2d72"/>
<circle cx="662.4" cy="181.1" r="2.5" fill="#b0b0b0"/>
<circle cx="662.4" cy="181.1" r="2.1" fill="#13a186"/>
<path d="M662.4,181.1L662.40,179.00A2.1,2.1 0 0 1 663.05,183.10Z" fill="#0b2d72"/>
<circle cx="623.2" cy="189.7" r="2.5" fill="#b0b0b0"/>
<circle cx="623.2" cy="189.7" r="2.1" fill="#c2f43c"/>
<circle cx="621.1" cy="194.0" r="2.5" fill="#b0b0b0"/>
<circle cx="621.1" cy="194.0" r="2.1" fill="#13a186"/>
<circle cx="634.0" cy="194.6" r="2.5" fill="#b0b0b0"/>
<circle cx="634.0" cy="194.6" r="2.1" fill="#13a186"/>
<path d="M634.0,194.6L634.00,192.50A2.1,2.1 0 0 1 634.65,196.60Z" fill="#0b2d72"/>
<circle cx="617.5" cy="198.6" r="2.5" fill="#b0b0b0"/>
<circle cx="617.5" cy="198.6" r="2.1" fill="#0b2d72"/>
<circle cx="616.8" cy="201.2" r="2.5" fill="#b0b0b0"/>
<circle cx="616.8" cy="201.2" r="2.1" fill="#13a186"/>
<circle cx="624.4" cy="200.1" r="2.5" fill="#b0b0b0"/>
<circle cx="624.4" cy="200.1" r="2.1" fill="#c2f43c"/>
<circle cx="620.7" cy="203.2" r="2.5" fill="#b0b0b0"/>
<circle cx="620.7" cy="203.2" r="2.1" fill="#0b2d72"/>
<circle cx="634.7" cy="202.9" r="2.5" fill="#b0b0b0"/>
<circle cx="634.7" cy="202.9" r="2.1" fill="#c2f43c"/>
<circle cx="611.8" cy="205.5" r="2.5" fill="#b0b0b0"/>
<circle cx="611.8" cy="205.5" r="2.1" fill="#0b2d72"/>
<circle cx="614.9" cy="204.7" r="2.5" fill="#b0b0b0"/>
<circle cx="614.9" cy="204.7" r="2.1" fill="#13a186"/>
<circle cx="621.5" cy="206.5" r="2.5" fill="#b0b0b0"/>
<circle cx="621.5" cy="206.5" r="2.1" fill="#c2f43c"/>
<path d="M621.5,206.5L621.50,204.40A2.1,2.1 0 0 1 622.15,208.50Z" fill="#13a186"/>
<circle cx="630.4" cy="206.5" r="2.5" fill="#b0b0b0"/>
<circle cx="630.4" cy="206.5" r="2.1" fill="#13a186"/>
<circle cx="617.8" cy="209.4" r="2.5" fill="#b0b0b0"/>
<circle cx="617.8" cy="209.4" r="2.1" fill="#13a186"/>
<circle cx="608.2" cy="211.3" r="2.5" fill="#b0b0b0"/>
<circle cx="608.2" cy="211.3" r="2.1" fill="#c2f43c"/>
<path d="M608.2,211.3L608.20,209.20A2.1,2.1 0 0 1 608.85,213.30Z" fill="#0b2d72"/>
<circle cx="613.2" cy="213.3" r="2.5" fill="#b0b0b0"/>
<circle cx="613.2" cy="213.3" r="2.1" fill="#13a186"/>
<circle cx="613.9" cy="215.3" r="2.5" fill="#b0b0b0"/>
<circle cx="613.9" cy="215.3" r="2.1" fill="#ff4fa6"/>
<circle cx="621.5" cy="213.7" r="2.5" fill="#b0b0b0"/>
<circle cx="621.5" cy="213.7" r="2.1" fill="#13a186"/>
<circle cx="629.3" cy="213.0" r="2.5" fill="#b0b0b0"/>
<circle cx="629.3" cy="213.0" r="2.1" fill="#0b2d72"/>
<circle cx="631.6" cy="213.7" r="2.5" fill="#b0b0b0"/>
<circle cx="631.6" cy="213.7" r="2.1" fill="#13a186"/>
<path d="M631.6,213.7L631.60,211.60A2.1,2.1 0 0 1 632.25,215.70Z" fill="#0b2d72"/>
<circle cx="626.8" cy="216.6" r="2.5" fill="#b0b0b0"/>
<circle cx="626.8" cy="216.6" r="2.1" fill="#13a186"/>
<circle cx="625.8" cy="218.7" r="2.5" fill="#b0b0b0"/>
<circle cx="625.8" cy="218.7" r="2.1" fill="#c2f43c"/>
<circle cx="622.5" cy="217.6" r="2.5" fill="#b0b0b0"/>
<circle cx="622.5" cy="217.6" r="2.1" fill="#0b2d72"/>
<circle cx="610.6" cy="220.3" r="2.5" fill="#b0b0b0"/>
<circle cx="610.6" cy="220.3" r="2.1" fill="#0b2d72"/>
<circle cx="614.6" cy="220.3" r="2.5" fill="#b0b0b0"/>
<circle cx="614.6" cy="220.3" r="2.1" fill="#13a186"/>
<circle cx="619.2" cy="221.5" r="2.5" fill="#b0b0b0"/>
<circle cx="619.2" cy="221.5" r="2.1" fill="#0b2d72"/>
<circle cx="623.2" cy="220.3" r="2.5" fill="#b0b0b0"/>
<circle cx="623.2" cy="220.3" r="2.1" fill="#13a186"/>
<circle cx="627.8" cy="221.8" r="2.5" fill="#b0b0b0"/>
<circle cx="627.8" cy="221.8" r="2.1" fill="#0b2d72"/>
<circle cx="607.5" cy="224.3" r="2.5" fill="#b0b0b0"/>
<circle cx="607.5" cy="224.3" r="2.1" fill="#13a186"/>
<path d="M607.5,224.3L607.50,222.20A2.1,2.1 0 0 1 608.15,226.30Z" fill="#c2f43c"/>
<circle cx="614.6" cy="224.3" r="2.5" fill="#b0b0b0"/>
<circle cx="614.6" cy="224.3" r="2.1" fill="#0b2d72"/>
<path d="M614.6,224.3L614.60,222.20A2.1,2.1 0 0 1 615.25,226.30Z" fill="#13a186"/>
<circle cx="623.5" cy="224.3" r="2.5" fill="#b0b0b0"/>
<circle cx="623.5" cy="224.3" r="2.1" fill="#13a186"/>
<circle cx="608.6" cy="227.9" r="2.5" fill="#b0b0b0"/>
<circle cx="608.6" cy="227.9" r="2.1" fill="#13a186"/>
<circle cx="614.6" cy="227.9" r="2.5" fill="#b0b0b0"/>
<circle cx="614.6" cy="227.9" r="2.1" fill="#0b2d72"/>
<path d="M614.6,227.9L614.60,225.80A2.1,2.1 0 0 1 615.25,229.90Z" fill="#13a186"/>
<circle cx="606.8" cy="230.1" r="2.5" fill="#b0b0b0"/>
<circle cx="606.8" cy="230.1" r="2.1" fill="#ff4fa6"/>
<circle cx="608.9" cy="231.5" r="2.5" fill="#b0b0b0"/>
<circle cx="608.9" cy="231.5" r="2.1" fill="#ff4fa6"/>
<circle cx="613.5" cy="231.2" r="2.5" fill="#b0b0b0"/>
<circle cx="613.5" cy="231.2" r="2.1" fill="#ff4fa6"/>
<circle cx="613.2" cy="234.1" r="2.5" fill="#b0b0b0"/>
<circle cx="613.2" cy="234.1" r="2.1" fill="#13a186"/>
<path d="M613.2,234.1L613.20,232.00A2.1,2.1 0 0 1 613.85,236.10Z" fill="#c2f43c"/>
<circle cx="633.6" cy="227.5" r="2.5" fill="#b0b0b0"/>
<circle cx="633.6" cy="227.5" r="2.1" fill="#0b2d72"/>
<circle cx="619.2" cy="237.0" r="2.5" fill="#b0b0b0"/>
<circle cx="619.2" cy="237.0" r="2.1" fill="#13a186"/>
<circle cx="624.0" cy="237.0" r="2.5" fill="#b0b0b0"/>
<circle cx="624.0" cy="237.0" r="2.1" fill="#13a186"/>
<circle cx="608.2" cy="240.8" r="2.5" fill="#b0b0b0"/>
<circle cx="608.2" cy="240.8" r="2.1" fill="#ff4fa6"/>
<circle cx="604.9" cy="243.3" r="2.5" fill="#b0b0b0"/>
<circle cx="604.9" cy="243.3" r="2.1" fill="#ff4fa6"/>
<circle cx="662.2" cy="187.8" r="2.5" fill="#b0b0b0"/>
<circle cx="662.2" cy="187.8" r="2.1" fill="#13a186"/>
<path d="M662.2,187.8L662.20,185.70A2.1,2.1 0 0 1 662.85,189.80Z" fill="#0b2d72"/>
<circle cx="663.8" cy="190.1" r="2.5" fill="#b0b0b0"/>
<circle cx="663.8" cy="190.1" r="2.1" fill="#0b2d72"/>
<circle cx="645.2" cy="200.2" r="2.5" fill="#b0b0b0"/>
<circle cx="645.2" cy="200.2" r="2.1" fill="#ff4fa6"/>
<path d="M645.2,200.2L645.20,198.10A2.1,2.1 0 0 1 645.85,202.20Z" fill="#0b2d72"/>
<circle cx="648.2" cy="200.2" r="2.5" fill="#b0b0b0"/>
<circle cx="648.2" cy="200.2" r="2.1" fill="#13a186"/>
<path d="M648.2,200.2L648.20,198.10A2.1,2.1 0 0 1 648.85,202.20Z" fill="#0b2d72"/>
<circle cx="658.4" cy="206.0" r="2.5" fill="#b0b0b0"/>
<circle cx="658.4" cy="206.0" r="2.1" fill="#0b2d72"/>
<circle cx="631.2" cy="213.0" r="2.5" fill="#b0b0b0"/>
<circle cx="631.2" cy="213.0" r="2.1" fill="#13a186"/>
<circle cx="635.8" cy="218.8" r="2.5" fill="#b0b0b0"/>
<circle cx="635.8" cy="218.8" r="2.1" fill="#13a186"/>
<circle cx="638.9" cy="218.8" r="2.5" fill="#b0b0b0"/>
<circle cx="638.9" cy="218.8" r="2.1" fill="#13a186"/>
<circle cx="656.8" cy="217.2" r="2.5" fill="#b0b0b0"/>
<circle cx="656.8" cy="217.2" r="2.1" fill="#0b2d72"/>
<circle cx="663.8" cy="217.2" r="2.5" fill="#b0b0b0"/>
<circle cx="663.8" cy="217.2" r="2.1" fill="#0b2d72"/>
<circle cx="661.5" cy="221.1" r="2.5" fill="#b0b0b0"/>
<circle cx="661.5" cy="221.1" r="2.1" fill="#c2f43c"/>
<path d="M661.5,221.1L661.50,219.00A2.1,2.1 0 0 1 662.15,223.10Z" fill="#13a186"/>
<circle cx="633.5" cy="227.4" r="2.5" fill="#b0b0b0"/>
<circle cx="633.5" cy="227.4" r="2.1" fill="#0b2d72"/>
<circle cx="636.5" cy="227.4" r="2.5" fill="#b0b0b0"/>
<circle cx="636.5" cy="227.4" r="2.1" fill="#c2f43c"/>
<circle cx="636.5" cy="231.2" r="2.5" fill="#b0b0b0"/>
<circle cx="636.5" cy="231.2" r="2.1" fill="#13a186"/>
<circle cx="648.2" cy="229.8" r="2.5" fill="#b0b0b0"/>
<circle cx="648.2" cy="229.8" r="2.1" fill="#13a186"/>
<circle cx="646.3" cy="232.8" r="2.5" fill="#b0b0b0"/>
<circle cx="646.3" cy="232.8" r="2.1" fill="#c2f43c"/>
<circle cx="644.0" cy="235.1" r="2.5" fill="#b0b0b0"/>
<circle cx="644.0" cy="235.1" r="2.1" fill="#13a186"/>
<circle cx="655.2" cy="231.2" r="2.5" fill="#b0b0b0"/>
<circle cx="655.2" cy="231.2" r="2.1" fill="#0b2d72"/>
<line x1="558.4" y1="221.7" x2="590" y2="233" stroke="#bebebe" stroke-width="1.3"/>
<line x1="606" y1="218.7" x2="663.8" y2="201.3" stroke="#bebebe" stroke-width="1.3"/>
<circle cx="630.5" cy="17.8" r="2.75" fill="#8c8c8c"/>
<circle cx="630.5" cy="17.8" r="2.3" fill="#13a186"/>
<path d="M630.5,17.8L630.50,15.50A2.3,2.3 0 0 1 631.21,19.99Z" fill="#0b2d72"/>
<path d="M636.2,19L639.6,22.4M636.2,22.4L639.6,19" stroke="#888" stroke-width="0.9"/>
<circle cx="638.1" cy="38.2" r="1.9" fill="none" stroke="#777" stroke-width="0.9"/>
<rect x="550.5" y="11.5" width="123.0" height="108.0" fill="none" stroke="#2b2b2b" stroke-width="1.1"/>
<line x1="556.9" y1="119.5" x2="556.9" y2="123.5" stroke="#2b2b2b" stroke-width="1.25"/>
<line x1="593.4" y1="119.5" x2="593.4" y2="123.5" stroke="#2b2b2b" stroke-width="1.25"/>
<line x1="630" y1="119.5" x2="630" y2="123.5" stroke="#2b2b2b" stroke-width="1.25"/>
<line x1="666.2" y1="119.5" x2="666.2" y2="123.5" stroke="#2b2b2b" stroke-width="1.25"/>
<line x1="546.5" y1="42.8" x2="550.5" y2="42.8" stroke="#2b2b2b" stroke-width="1.25"/>
<text x="544.3" y="46.0" font-size="9.7" fill="#4d4d4d" text-anchor="end" font-weight="normal">400</text>
<line x1="546.5" y1="79" x2="550.5" y2="79" stroke="#2b2b2b" stroke-width="1.25"/>
<text x="544.3" y="82.2" font-size="9.7" fill="#4d4d4d" text-anchor="end" font-weight="normal">200</text>
<line x1="546.5" y1="115.3" x2="550.5" y2="115.3" stroke="#2b2b2b" stroke-width="1.25"/>
<text x="544.3" y="118.5" font-size="9.7" fill="#4d4d4d" text-anchor="end" font-weight="normal">0</text>
<text x="555.5" y="133.3" font-size="9.7" fill="#4d4d4d" text-anchor="middle" font-weight="normal">120</text>
<text x="592.0" y="133.3" font-size="9.7" fill="#4d4d4d" text-anchor="middle" font-weight="normal">140</text>
<text x="628.6" y="133.3" font-size="9.7" fill="#4d4d4d" text-anchor="middle" font-weight="normal">160</text>
<text x="664.8000000000001" y="133.3" font-size="9.7" fill="#4d4d4d" text-anchor="middle" font-weight="normal">180</text>
<rect x="551.3" y="146.5" width="119.20000000000005" height="103.0" fill="none" stroke="#2b2b2b" stroke-width="1.1"/>
<line x1="552.9" y1="249.5" x2="552.9" y2="253.5" stroke="#2b2b2b" stroke-width="1.25"/>
<line x1="580.5" y1="249.5" x2="580.5" y2="253.5" stroke="#2b2b2b" stroke-width="1.25"/>
<line x1="608.15" y1="249.5" x2="608.15" y2="253.5" stroke="#2b2b2b" stroke-width="1.25"/>
<line x1="635.8" y1="249.5" x2="635.8" y2="253.5" stroke="#2b2b2b" stroke-width="1.25"/>
<line x1="663.4" y1="249.5" x2="663.4" y2="253.5" stroke="#2b2b2b" stroke-width="1.25"/>
<line x1="547.3" y1="151.5" x2="551.3" y2="151.5" stroke="#2b2b2b" stroke-width="1.25"/>
<text x="545.0999999999999" y="154.7" font-size="9.7" fill="#4d4d4d" text-anchor="end" font-weight="normal">1.00</text>
<line x1="547.3" y1="174.5" x2="551.3" y2="174.5" stroke="#2b2b2b" stroke-width="1.25"/>
<text x="545.0999999999999" y="177.7" font-size="9.7" fill="#4d4d4d" text-anchor="end" font-weight="normal">0.75</text>
<line x1="547.3" y1="197.5" x2="551.3" y2="197.5" stroke="#2b2b2b" stroke-width="1.25"/>
<text x="545.0999999999999" y="200.7" font-size="9.7" fill="#4d4d4d" text-anchor="end" font-weight="normal">0.50</text>
<line x1="547.3" y1="220.5" x2="551.3" y2="220.5" stroke="#2b2b2b" stroke-width="1.25"/>
<text x="545.0999999999999" y="223.7" font-size="9.7" fill="#4d4d4d" text-anchor="end" font-weight="normal">0.25</text>
<line x1="547.3" y1="243.5" x2="551.3" y2="243.5" stroke="#2b2b2b" stroke-width="1.25"/>
<text x="545.0999999999999" y="246.7" font-size="9.7" fill="#4d4d4d" text-anchor="end" font-weight="normal">0.00</text>
<text x="551.6999999999999" y="262" font-size="9.7" fill="#4d4d4d" text-anchor="middle" font-weight="normal">117</text>
<text x="606.9499999999999" y="262" font-size="9.7" fill="#4d4d4d" text-anchor="middle" font-weight="normal">156</text>
<text x="662.1999999999999" y="262" font-size="9.7" fill="#4d4d4d" text-anchor="middle" font-weight="normal">195</text>
<text x="516.6" y="68.6" font-size="10" fill="#1a1a1a" stroke="#1a1a1a" stroke-width="0.25" text-anchor="middle" font-weight="normal" transform="rotate(-90 516.6 68.6)">Mean seed count</text>
<text x="516.6" y="198.95" font-size="10" fill="#1a1a1a" stroke="#1a1a1a" stroke-width="0.25" text-anchor="middle" font-weight="normal" transform="rotate(-90 516.6 198.95)">Mean inflor. mass (g)</text>
<text x="610.9" y="276.4" font-size="10" fill="#1a1a1a" stroke="#1a1a1a" stroke-width="0.25" text-anchor="middle" font-weight="normal">Mean first day of flowering</text>
<text x="677" y="14.5" font-size="10" fill="#4d4d4d" text-anchor="start" font-weight="normal" transform="rotate(90 677 14.5)">Spring 2022</text>
<text x="677" y="151.3" font-size="10" fill="#4d4d4d" text-anchor="start" font-weight="normal" transform="rotate(90 677 151.3)">Spring 2023</text>
<text x="557.5" y="22.5" font-size="10" fill="#1a1a1a" stroke="#1a1a1a" stroke-width="0.25" text-anchor="start" font-weight="normal">fl***</text>
<text x="557.5" y="34.4" font-size="10" fill="#1a1a1a" stroke="#1a1a1a" stroke-width="0.25" text-anchor="start" font-weight="normal">site***</text>
<text x="557.5" y="46.2" font-size="10" fill="#1a1a1a" stroke="#1a1a1a" stroke-width="0.25" text-anchor="start" font-weight="normal">int***</text>
<text x="557.5" y="158.8" font-size="10" fill="#1a1a1a" stroke="#1a1a1a" stroke-width="0.25" text-anchor="start" font-weight="normal">fl*</text>
<text x="557.5" y="170.6" font-size="10" fill="#1a1a1a" stroke="#1a1a1a" stroke-width="0.25" text-anchor="start" font-weight="normal">site**</text>
<text x="557.5" y="182.3" font-size="10" fill="#1a1a1a" stroke="#1a1a1a" stroke-width="0.25" text-anchor="start" font-weight="normal">int**</text>
<text x="644" y="23.6" font-size="10" fill="#1a1a1a" stroke="#1a1a1a" stroke-width="0.25" text-anchor="start" font-weight="normal">WI</text>
<text x="644" y="40.7" font-size="10" fill="#1a1a1a" stroke="#1a1a1a" stroke-width="0.25" text-anchor="start" font-weight="normal">SS</text>
<text x="130" y="24.6" font-size="9.7" fill="#1a1a1a" stroke="#1a1a1a" stroke-width="0.25" text-anchor="start" font-weight="normal">PC2</text>
<text x="130" y="36.7" font-size="9.7" fill="#1a1a1a" stroke="#1a1a1a" stroke-width="0.25" text-anchor="start" font-weight="normal">22.2%</text>
<text x="4.6" y="149.8" font-size="9.7" fill="#1a1a1a" stroke="#1a1a1a" stroke-width="0.25" text-anchor="start" font-weight="normal">PC1</text>
<text x="4.6" y="161.6" font-size="9.7" fill="#1a1a1a" stroke="#1a1a1a" stroke-width="0.25" text-anchor="start" font-weight="normal">35.4%</text>
</svg></body></html>
